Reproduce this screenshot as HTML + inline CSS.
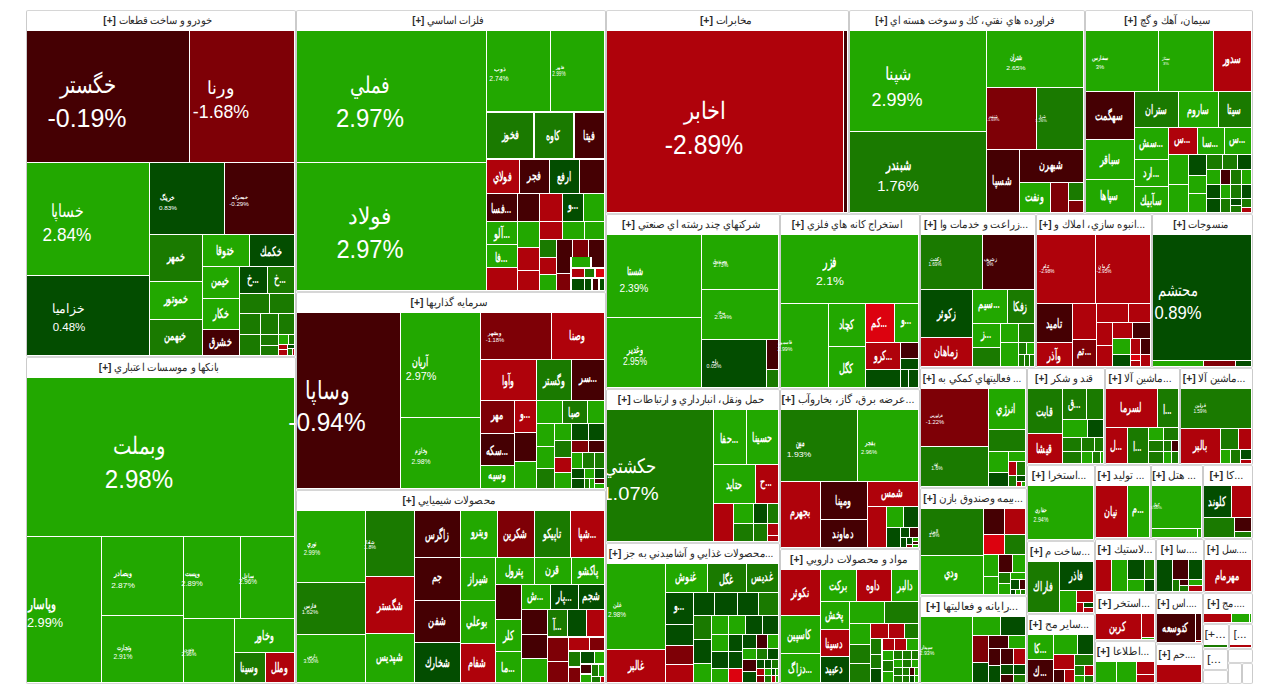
<!DOCTYPE html><html><head><meta charset="utf-8"><style>
html,body{margin:0;padding:0;background:#fff;width:1280px;height:699px;overflow:hidden}
body{position:relative;font-family:"Liberation Sans",sans-serif}
.s{position:absolute;border:1px solid #cbcbcb;border-top-color:#d6d6d6;border-bottom-color:#d6d6d6;border-radius:2px;background:#fff;box-sizing:border-box}
.h{position:absolute;width:600px;height:20px;line-height:20px;text-align:center;color:#2a2a2a;white-space:nowrap}
.t{position:absolute}
.l{position:absolute;width:400px;text-align:center;color:#fff;white-space:nowrap}
.c{position:absolute;overflow:hidden}

</style></head><body>
<div class="s" style="left:26px;top:10px;width:270px;height:347px"></div>
<div class="s" style="left:26px;top:357px;width:270px;height:327px"></div>
<div class="s" style="left:296px;top:10px;width:310px;height:282px"></div>
<div class="s" style="left:296px;top:292px;width:310px;height:198px"></div>
<div class="s" style="left:296px;top:490px;width:310px;height:194px"></div>
<div class="s" style="left:606px;top:10px;width:243px;height:204px"></div>
<div class="s" style="left:849px;top:10px;width:236px;height:204px"></div>
<div class="s" style="left:1085px;top:10px;width:168px;height:204px"></div>
<div class="s" style="left:606px;top:214px;width:174px;height:175px"></div>
<div class="s" style="left:780px;top:214px;width:140px;height:175px"></div>
<div class="s" style="left:920px;top:214px;width:116px;height:154px"></div>
<div class="s" style="left:1036px;top:214px;width:116px;height:154px"></div>
<div class="s" style="left:1152px;top:214px;width:101px;height:154px"></div>
<div class="s" style="left:606px;top:389px;width:174px;height:154px"></div>
<div class="s" style="left:606px;top:543px;width:174px;height:141px"></div>
<div class="s" style="left:780px;top:389px;width:140px;height:160px"></div>
<div class="s" style="left:780px;top:549px;width:140px;height:135px"></div>
<div class="s" style="left:920px;top:368px;width:107px;height:120px"></div>
<div class="s" style="left:920px;top:488px;width:107px;height:108px"></div>
<div class="s" style="left:920px;top:596px;width:107px;height:88px"></div>
<div class="s" style="left:1027px;top:368px;width:78px;height:97px"></div>
<div class="s" style="left:1105px;top:368px;width:75px;height:97px"></div>
<div class="s" style="left:1180px;top:368px;width:73px;height:97px"></div>
<div class="s" style="left:1027px;top:465px;width:68px;height:76px"></div>
<div class="s" style="left:1027px;top:541px;width:68px;height:73px"></div>
<div class="s" style="left:1027px;top:614px;width:68px;height:70px"></div>
<div class="s" style="left:1095px;top:465px;width:56px;height:74px"></div>
<div class="s" style="left:1151px;top:465px;width:52px;height:74px"></div>
<div class="s" style="left:1203px;top:465px;width:50px;height:74px"></div>
<div class="s" style="left:1095px;top:539px;width:61px;height:54px"></div>
<div class="s" style="left:1156px;top:539px;width:48px;height:54px"></div>
<div class="s" style="left:1204px;top:539px;width:49px;height:54px"></div>
<div class="s" style="left:1095px;top:593px;width:61px;height:48px"></div>
<div class="s" style="left:1156px;top:593px;width:47px;height:51px"></div>
<div class="s" style="left:1203px;top:593px;width:50px;height:31px"></div>
<div class="s" style="left:1095px;top:641px;width:61px;height:43px"></div>
<div class="s" style="left:1156px;top:644px;width:47px;height:40px"></div>
<div class="s" style="left:1203px;top:624px;width:26px;height:25px"></div>
<div class="s" style="left:1229px;top:624px;width:24px;height:25px"></div>
<div class="s" style="left:1203px;top:649px;width:25px;height:21px"></div>
<div class="s" style="left:1228px;top:649px;width:25px;height:14px"></div>
<div class="s" style="left:1203px;top:670px;width:25px;height:14px"></div>
<div class="s" style="left:1228px;top:663px;width:14px;height:21px"></div>
<div class="s" style="left:1242px;top:663px;width:11px;height:21px"></div>
<div class="t" style="left:27px;top:31px;width:162px;height:131px;background:#450003"></div>
<div class="t" style="left:190px;top:31px;width:104px;height:131px;background:#7e0006"></div>
<div class="t" style="left:27px;top:163px;width:122px;height:112px;background:#22a800"></div>
<div class="t" style="left:27px;top:276px;width:122px;height:79px;background:#034d00"></div>
<div class="t" style="left:150px;top:163px;width:74px;height:71px;background:#034d00"></div>
<div class="t" style="left:225px;top:163px;width:69px;height:71px;background:#450003"></div>
<div class="t" style="left:150px;top:235px;width:52px;height:46px;background:#1a7a00"></div>
<div class="t" style="left:150px;top:282px;width:52px;height:37px;background:#22a800"></div>
<div class="t" style="left:150px;top:320px;width:52px;height:35px;background:#1a7a00"></div>
<div class="t" style="left:203px;top:235px;width:46px;height:31px;background:#22a800"></div>
<div class="t" style="left:250px;top:235px;width:44px;height:31px;background:#034d00"></div>
<div class="t" style="left:203px;top:267px;width:36px;height:31px;background:#22a800"></div>
<div class="t" style="left:203px;top:299px;width:36px;height:30px;background:#22a800"></div>
<div class="t" style="left:203px;top:330px;width:36px;height:25px;background:#450003"></div>
<div class="t" style="left:240px;top:267px;width:27px;height:26px;background:#034d00"></div>
<div class="t" style="left:268px;top:267px;width:26px;height:26px;background:#1a7a00"></div>
<div class="t" style="left:240px;top:294px;width:29px;height:19px;background:#1a7a00"></div>
<div class="t" style="left:270px;top:294px;width:24px;height:19px;background:#1a7a00"></div>
<div class="t" style="left:240px;top:314px;width:20px;height:20px;background:#1a7a00"></div>
<div class="t" style="left:261px;top:314px;width:17px;height:20px;background:#1a7a00"></div>
<div class="t" style="left:279px;top:314px;width:15px;height:20px;background:#1a7a00"></div>
<div class="t" style="left:240px;top:335px;width:20px;height:20px;background:#1a7a00"></div>
<div class="t" style="left:261px;top:335px;width:17px;height:10px;background:#1a7a00"></div>
<div class="t" style="left:261px;top:346px;width:17px;height:9px;background:#1a7a00"></div>
<div class="t" style="left:279px;top:335px;width:9px;height:9px;background:#22a800"></div>
<div class="t" style="left:289px;top:335px;width:5px;height:9px;background:#1a7a00"></div>
<div class="t" style="left:279px;top:345px;width:8px;height:4px;background:#af020b"></div>
<div class="t" style="left:279px;top:350px;width:8px;height:5px;background:#af020b"></div>
<div class="t" style="left:288px;top:345px;width:6px;height:3px;background:#034d00"></div>
<div class="t" style="left:288px;top:349px;width:4px;height:6px;background:#1a7a00"></div>
<div class="t" style="left:293px;top:349px;width:1px;height:6px;background:#af020b"></div>
<div class="t" style="left:27px;top:378px;width:267px;height:158px;background:#22a800"></div>
<div class="t" style="left:27px;top:537px;width:74px;height:145px;background:#22a800"></div>
<div class="t" style="left:102px;top:537px;width:81px;height:78px;background:#22a800"></div>
<div class="t" style="left:102px;top:616px;width:81px;height:66px;background:#22a800"></div>
<div class="t" style="left:184px;top:537px;width:56px;height:81px;background:#22a800"></div>
<div class="t" style="left:241px;top:537px;width:53px;height:81px;background:#22a800"></div>
<div class="t" style="left:184px;top:619px;width:50px;height:63px;background:#22a800"></div>
<div class="t" style="left:235px;top:619px;width:59px;height:33px;background:#22a800"></div>
<div class="t" style="left:235px;top:653px;width:30px;height:29px;background:#1a7a00"></div>
<div class="t" style="left:266px;top:653px;width:28px;height:29px;background:#af020b"></div>
<div class="t" style="left:297px;top:31px;width:189px;height:131px;background:#22a800"></div>
<div class="t" style="left:297px;top:163px;width:189px;height:127px;background:#22a800"></div>
<div class="t" style="left:487px;top:31px;width:63px;height:80px;background:#22a800"></div>
<div class="t" style="left:551px;top:31px;width:53px;height:80px;background:#22a800"></div>
<div class="t" style="left:487px;top:113px;width:46px;height:45px;background:#1a7a00"></div>
<div class="t" style="left:535px;top:113px;width:38px;height:45px;background:#1a7a00"></div>
<div class="t" style="left:575px;top:113px;width:29px;height:45px;background:#450003"></div>
<div class="t" style="left:487px;top:160px;width:32px;height:33px;background:#af020b"></div>
<div class="t" style="left:520px;top:160px;width:29px;height:33px;background:#450003"></div>
<div class="t" style="left:550px;top:160px;width:29px;height:33px;background:#034d00"></div>
<div class="t" style="left:580px;top:160px;width:24px;height:33px;background:#450003"></div>
<div class="t" style="left:487px;top:194px;width:30px;height:27px;background:#450003"></div>
<div class="t" style="left:518px;top:194px;width:21px;height:27px;background:#450003"></div>
<div class="t" style="left:540px;top:194px;width:22px;height:27px;background:#af020b"></div>
<div class="t" style="left:563px;top:194px;width:20px;height:27px;background:#034d00"></div>
<div class="t" style="left:584px;top:194px;width:20px;height:27px;background:#22a800"></div>
<div class="t" style="left:487px;top:222px;width:30px;height:22px;background:#22a800"></div>
<div class="t" style="left:487px;top:245px;width:30px;height:22px;background:#22a800"></div>
<div class="t" style="left:487px;top:268px;width:30px;height:22px;background:#af020b"></div>
<div class="t" style="left:518px;top:222px;width:21px;height:25px;background:#22a800"></div>
<div class="t" style="left:518px;top:248px;width:21px;height:22px;background:#af020b"></div>
<div class="t" style="left:518px;top:271px;width:21px;height:19px;background:#af020b"></div>
<div class="t" style="left:540px;top:222px;width:22px;height:17px;background:#af020b"></div>
<div class="t" style="left:563px;top:222px;width:21px;height:17px;background:#22a800"></div>
<div class="t" style="left:585px;top:222px;width:19px;height:17px;background:#22a800"></div>
<div class="t" style="left:540px;top:240px;width:16px;height:17px;background:#1a7a00"></div>
<div class="t" style="left:557px;top:240px;width:15px;height:17px;background:#450003"></div>
<div class="t" style="left:573px;top:240px;width:15px;height:17px;background:#7e0006"></div>
<div class="t" style="left:589px;top:240px;width:15px;height:17px;background:#450003"></div>
<div class="t" style="left:540px;top:258px;width:16px;height:16px;background:#af020b"></div>
<div class="t" style="left:540px;top:275px;width:16px;height:15px;background:#22a800"></div>
<div class="t" style="left:557px;top:257px;width:13px;height:16px;background:#450003"></div>
<div class="t" style="left:557px;top:274px;width:13px;height:16px;background:#7e0006"></div>
<div class="t" style="left:572px;top:257px;width:18px;height:10px;background:#22a800"></div>
<div class="t" style="left:592px;top:257px;width:12px;height:10px;background:#450003"></div>
<div class="t" style="left:572px;top:269px;width:12px;height:8px;background:#af020b"></div>
<div class="t" style="left:585px;top:269px;width:9px;height:8px;background:#1a7a00"></div>
<div class="t" style="left:596px;top:269px;width:8px;height:8px;background:#dc020f"></div>
<div class="t" style="left:572px;top:279px;width:12px;height:11px;background:#034d00"></div>
<div class="t" style="left:585px;top:279px;width:6px;height:11px;background:#034d00"></div>
<div class="t" style="left:593px;top:279px;width:5px;height:11px;background:#450003"></div>
<div class="t" style="left:600px;top:279px;width:4px;height:11px;background:#034d00"></div>
<div class="t" style="left:297px;top:313px;width:103px;height:175px;background:#450003"></div>
<div class="t" style="left:401px;top:313px;width:79px;height:104px;background:#22a800"></div>
<div class="t" style="left:401px;top:418px;width:79px;height:70px;background:#22a800"></div>
<div class="t" style="left:481px;top:313px;width:70px;height:46px;background:#7e0006"></div>
<div class="t" style="left:552px;top:313px;width:52px;height:46px;background:#af020b"></div>
<div class="t" style="left:481px;top:360px;width:55px;height:40px;background:#af020b"></div>
<div class="t" style="left:537px;top:360px;width:34px;height:40px;background:#1a7a00"></div>
<div class="t" style="left:572px;top:360px;width:32px;height:40px;background:#450003"></div>
<div class="t" style="left:481px;top:401px;width:33px;height:32px;background:#7e0006"></div>
<div class="t" style="left:515px;top:401px;width:21px;height:31px;background:#af020b"></div>
<div class="t" style="left:481px;top:434px;width:33px;height:31px;background:#450003"></div>
<div class="t" style="left:515px;top:433px;width:21px;height:28px;background:#450003"></div>
<div class="t" style="left:481px;top:466px;width:33px;height:22px;background:#22a800"></div>
<div class="t" style="left:515px;top:462px;width:21px;height:26px;background:#22a800"></div>
<div class="t" style="left:537px;top:401px;width:25px;height:22px;background:#22a800"></div>
<div class="t" style="left:563px;top:401px;width:24px;height:22px;background:#1a7a00"></div>
<div class="t" style="left:588px;top:401px;width:16px;height:22px;background:#22a800"></div>
<div class="t" style="left:537px;top:424px;width:17px;height:22px;background:#22a800"></div>
<div class="t" style="left:537px;top:447px;width:17px;height:21px;background:#22a800"></div>
<div class="t" style="left:537px;top:469px;width:17px;height:19px;background:#1a7a00"></div>
<div class="t" style="left:555px;top:424px;width:16px;height:16px;background:#22a800"></div>
<div class="t" style="left:572px;top:424px;width:16px;height:16px;background:#034d00"></div>
<div class="t" style="left:589px;top:424px;width:15px;height:16px;background:#034d00"></div>
<div class="t" style="left:555px;top:441px;width:16px;height:16px;background:#1a7a00"></div>
<div class="t" style="left:555px;top:458px;width:16px;height:14px;background:#af020b"></div>
<div class="t" style="left:555px;top:473px;width:16px;height:15px;background:#22a800"></div>
<div class="t" style="left:572px;top:441px;width:16px;height:11px;background:#7e0006"></div>
<div class="t" style="left:589px;top:441px;width:15px;height:11px;background:#450003"></div>
<div class="t" style="left:572px;top:453px;width:10px;height:15px;background:#22a800"></div>
<div class="t" style="left:583px;top:453px;width:11px;height:15px;background:#1a7a00"></div>
<div class="t" style="left:595px;top:453px;width:9px;height:15px;background:#1a7a00"></div>
<div class="t" style="left:572px;top:469px;width:12px;height:9px;background:#034d00"></div>
<div class="t" style="left:585px;top:469px;width:9px;height:9px;background:#22a800"></div>
<div class="t" style="left:595px;top:469px;width:9px;height:9px;background:#034d00"></div>
<div class="t" style="left:572px;top:479px;width:12px;height:9px;background:#034d00"></div>
<div class="t" style="left:585px;top:479px;width:4px;height:9px;background:#1a7a00"></div>
<div class="t" style="left:590px;top:479px;width:4px;height:9px;background:#22a800"></div>
<div class="t" style="left:595px;top:479px;width:9px;height:4px;background:#450003"></div>
<div class="t" style="left:595px;top:484px;width:9px;height:4px;background:#22a800"></div>
<div class="t" style="left:297px;top:511px;width:68px;height:71px;background:#22a800"></div>
<div class="t" style="left:297px;top:583px;width:68px;height:51px;background:#1a7a00"></div>
<div class="t" style="left:297px;top:635px;width:68px;height:47px;background:#22a800"></div>
<div class="t" style="left:366px;top:511px;width:48px;height:65px;background:#1a7a00"></div>
<div class="t" style="left:366px;top:577px;width:48px;height:56px;background:#af020b"></div>
<div class="t" style="left:366px;top:634px;width:48px;height:48px;background:#22a800"></div>
<div class="t" style="left:415px;top:511px;width:45px;height:46px;background:#450003"></div>
<div class="t" style="left:415px;top:558px;width:45px;height:42px;background:#450003"></div>
<div class="t" style="left:415px;top:601px;width:45px;height:41px;background:#450003"></div>
<div class="t" style="left:415px;top:643px;width:45px;height:39px;background:#034d00"></div>
<div class="t" style="left:461px;top:511px;width:36px;height:46px;background:#22a800"></div>
<div class="t" style="left:498px;top:511px;width:36px;height:46px;background:#7e0006"></div>
<div class="t" style="left:535px;top:511px;width:35px;height:46px;background:#1a7a00"></div>
<div class="t" style="left:571px;top:511px;width:33px;height:46px;background:#af020b"></div>
<div class="t" style="left:461px;top:558px;width:34px;height:42px;background:#22a800"></div>
<div class="t" style="left:461px;top:601px;width:34px;height:42px;background:#22a800"></div>
<div class="t" style="left:461px;top:644px;width:34px;height:38px;background:#af020b"></div>
<div class="t" style="left:496px;top:558px;width:38px;height:26px;background:#22a800"></div>
<div class="t" style="left:535px;top:558px;width:36px;height:26px;background:#22a800"></div>
<div class="t" style="left:572px;top:558px;width:32px;height:26px;background:#22a800"></div>
<div class="t" style="left:496px;top:585px;width:25px;height:34px;background:#450003"></div>
<div class="t" style="left:496px;top:620px;width:25px;height:31px;background:#22a800"></div>
<div class="t" style="left:496px;top:652px;width:25px;height:30px;background:#22a800"></div>
<div class="t" style="left:522px;top:585px;width:28px;height:24px;background:#22a800"></div>
<div class="t" style="left:551px;top:585px;width:27px;height:24px;background:#034d00"></div>
<div class="t" style="left:579px;top:585px;width:25px;height:24px;background:#034d00"></div>
<div class="t" style="left:522px;top:610px;width:25px;height:24px;background:#450003"></div>
<div class="t" style="left:522px;top:635px;width:25px;height:23px;background:#450003"></div>
<div class="t" style="left:522px;top:659px;width:25px;height:23px;background:#22a800"></div>
<div class="t" style="left:548px;top:610px;width:19px;height:26px;background:#1a7a00"></div>
<div class="t" style="left:568px;top:610px;width:18px;height:26px;background:#034d00"></div>
<div class="t" style="left:587px;top:610px;width:17px;height:26px;background:#af020b"></div>
<div class="t" style="left:548px;top:638px;width:20px;height:23px;background:#7e0006"></div>
<div class="t" style="left:548px;top:662px;width:20px;height:20px;background:#7e0006"></div>
<div class="t" style="left:569px;top:638px;width:20px;height:12px;background:#af020b"></div>
<div class="t" style="left:590px;top:638px;width:14px;height:12px;background:#7e0006"></div>
<div class="t" style="left:569px;top:652px;width:11px;height:14px;background:#1a7a00"></div>
<div class="t" style="left:581px;top:652px;width:13px;height:11px;background:#034d00"></div>
<div class="t" style="left:595px;top:652px;width:9px;height:11px;background:#22a800"></div>
<div class="t" style="left:569px;top:668px;width:11px;height:14px;background:#7e0006"></div>
<div class="t" style="left:581px;top:665px;width:10px;height:8px;background:#450003"></div>
<div class="t" style="left:581px;top:675px;width:10px;height:7px;background:#22a800"></div>
<div class="t" style="left:592px;top:665px;width:6px;height:11px;background:#1a7a00"></div>
<div class="t" style="left:599px;top:665px;width:5px;height:11px;background:#22a800"></div>
<div class="t" style="left:592px;top:677px;width:8px;height:5px;background:#1a7a00"></div>
<div class="t" style="left:601px;top:677px;width:3px;height:5px;background:#af020b"></div>
<div class="t" style="left:607px;top:31px;width:236px;height:181px;background:#af020b"></div>
<div class="t" style="left:844px;top:31px;width:3px;height:181px;background:#450003"></div>
<div class="t" style="left:850px;top:31px;width:136px;height:100px;background:#22a800"></div>
<div class="t" style="left:850px;top:132px;width:136px;height:80px;background:#1a7a00"></div>
<div class="t" style="left:987px;top:31px;width:96px;height:56px;background:#22a800"></div>
<div class="t" style="left:987px;top:88px;width:49px;height:61px;background:#7e0006"></div>
<div class="t" style="left:1037px;top:88px;width:46px;height:61px;background:#1a7a00"></div>
<div class="t" style="left:987px;top:150px;width:32px;height:62px;background:#450003"></div>
<div class="t" style="left:1020px;top:150px;width:63px;height:32px;background:#450003"></div>
<div class="t" style="left:1020px;top:183px;width:30px;height:29px;background:#22a800"></div>
<div class="t" style="left:1051px;top:183px;width:17px;height:29px;background:#7e0006"></div>
<div class="t" style="left:1069px;top:183px;width:14px;height:17px;background:#1a7a00"></div>
<div class="t" style="left:1069px;top:201px;width:14px;height:11px;background:#7e0006"></div>
<div class="t" style="left:1086px;top:31px;width:72px;height:60px;background:#22a800"></div>
<div class="t" style="left:1159px;top:31px;width:54px;height:60px;background:#22a800"></div>
<div class="t" style="left:1214px;top:31px;width:37px;height:60px;background:#af020b"></div>
<div class="t" style="left:1086px;top:92px;width:48px;height:47px;background:#450003"></div>
<div class="t" style="left:1086px;top:140px;width:48px;height:39px;background:#22a800"></div>
<div class="t" style="left:1086px;top:180px;width:48px;height:32px;background:#22a800"></div>
<div class="t" style="left:1135px;top:92px;width:43px;height:35px;background:#1a7a00"></div>
<div class="t" style="left:1179px;top:92px;width:39px;height:35px;background:#22a800"></div>
<div class="t" style="left:1219px;top:92px;width:32px;height:35px;background:#1a7a00"></div>
<div class="t" style="left:1135px;top:128px;width:33px;height:31px;background:#22a800"></div>
<div class="t" style="left:1135px;top:160px;width:33px;height:26px;background:#22a800"></div>
<div class="t" style="left:1135px;top:187px;width:33px;height:25px;background:#22a800"></div>
<div class="t" style="left:1169px;top:128px;width:28px;height:26px;background:#af020b"></div>
<div class="t" style="left:1198px;top:128px;width:26px;height:26px;background:#22a800"></div>
<div class="t" style="left:1225px;top:128px;width:26px;height:26px;background:#22a800"></div>
<div class="t" style="left:1169px;top:155px;width:19px;height:29px;background:#22a800"></div>
<div class="t" style="left:1169px;top:185px;width:19px;height:27px;background:#22a800"></div>
<div class="t" style="left:1189px;top:155px;width:17px;height:20px;background:#034d00"></div>
<div class="t" style="left:1189px;top:176px;width:17px;height:17px;background:#22a800"></div>
<div class="t" style="left:1189px;top:194px;width:17px;height:18px;background:#22a800"></div>
<div class="t" style="left:1207px;top:155px;width:15px;height:14px;background:#1a7a00"></div>
<div class="t" style="left:1223px;top:155px;width:14px;height:14px;background:#1a7a00"></div>
<div class="t" style="left:1238px;top:155px;width:13px;height:14px;background:#034d00"></div>
<div class="t" style="left:1207px;top:170px;width:13px;height:14px;background:#22a800"></div>
<div class="t" style="left:1221px;top:170px;width:9px;height:14px;background:#450003"></div>
<div class="t" style="left:1231px;top:170px;width:10px;height:14px;background:#1a7a00"></div>
<div class="t" style="left:1242px;top:170px;width:9px;height:14px;background:#22a800"></div>
<div class="t" style="left:1207px;top:185px;width:13px;height:13px;background:#034d00"></div>
<div class="t" style="left:1221px;top:185px;width:9px;height:13px;background:#22a800"></div>
<div class="t" style="left:1231px;top:185px;width:10px;height:13px;background:#1a7a00"></div>
<div class="t" style="left:1242px;top:185px;width:9px;height:13px;background:#034d00"></div>
<div class="t" style="left:1207px;top:199px;width:13px;height:13px;background:#034d00"></div>
<div class="t" style="left:1221px;top:199px;width:9px;height:13px;background:#1a7a00"></div>
<div class="t" style="left:1231px;top:199px;width:10px;height:6px;background:#034d00"></div>
<div class="t" style="left:1231px;top:206px;width:10px;height:6px;background:#1a7a00"></div>
<div class="t" style="left:1242px;top:199px;width:9px;height:8px;background:#1a7a00"></div>
<div class="t" style="left:1242px;top:208px;width:9px;height:4px;background:#af020b"></div>
<div class="t" style="left:607px;top:235px;width:94px;height:82px;background:#22a800"></div>
<div class="t" style="left:607px;top:318px;width:94px;height:69px;background:#22a800"></div>
<div class="t" style="left:702px;top:235px;width:76px;height:54px;background:#22a800"></div>
<div class="t" style="left:702px;top:290px;width:76px;height:49px;background:#22a800"></div>
<div class="t" style="left:702px;top:340px;width:64px;height:47px;background:#034d00"></div>
<div class="t" style="left:767px;top:340px;width:11px;height:29px;background:#450003"></div>
<div class="t" style="left:767px;top:370px;width:11px;height:17px;background:#1a7a00"></div>
<div class="t" style="left:781px;top:235px;width:137px;height:68px;background:#22a800"></div>
<div class="t" style="left:781px;top:304px;width:47px;height:83px;background:#22a800"></div>
<div class="t" style="left:829px;top:304px;width:36px;height:42px;background:#22a800"></div>
<div class="t" style="left:829px;top:347px;width:36px;height:40px;background:#22a800"></div>
<div class="t" style="left:866px;top:304px;width:28px;height:38px;background:#dc020f"></div>
<div class="t" style="left:895px;top:304px;width:23px;height:38px;background:#22a800"></div>
<div class="t" style="left:866px;top:343px;width:34px;height:26px;background:#af020b"></div>
<div class="t" style="left:901px;top:343px;width:17px;height:15px;background:#450003"></div>
<div class="t" style="left:901px;top:359px;width:17px;height:10px;background:#034d00"></div>
<div class="t" style="left:866px;top:370px;width:34px;height:17px;background:#034d00"></div>
<div class="t" style="left:901px;top:370px;width:7px;height:17px;background:#034d00"></div>
<div class="t" style="left:909px;top:370px;width:9px;height:17px;background:#034d00"></div>
<div class="t" style="left:921px;top:235px;width:61px;height:54px;background:#1a7a00"></div>
<div class="t" style="left:983px;top:235px;width:51px;height:54px;background:#450003"></div>
<div class="t" style="left:921px;top:290px;width:51px;height:47px;background:#034d00"></div>
<div class="t" style="left:921px;top:338px;width:51px;height:28px;background:#af020b"></div>
<div class="t" style="left:973px;top:290px;width:34px;height:33px;background:#22a800"></div>
<div class="t" style="left:1008px;top:290px;width:26px;height:33px;background:#1a7a00"></div>
<div class="t" style="left:973px;top:324px;width:27px;height:23px;background:#22a800"></div>
<div class="t" style="left:973px;top:348px;width:27px;height:18px;background:#1a7a00"></div>
<div class="t" style="left:1001px;top:324px;width:17px;height:18px;background:#22a800"></div>
<div class="t" style="left:1019px;top:324px;width:15px;height:18px;background:#1a7a00"></div>
<div class="t" style="left:1001px;top:343px;width:17px;height:23px;background:#22a800"></div>
<div class="t" style="left:1019px;top:343px;width:7px;height:11px;background:#1a7a00"></div>
<div class="t" style="left:1027px;top:343px;width:7px;height:11px;background:#22a800"></div>
<div class="t" style="left:1019px;top:355px;width:5px;height:11px;background:#1a7a00"></div>
<div class="t" style="left:1025px;top:355px;width:4px;height:11px;background:#1a7a00"></div>
<div class="t" style="left:1030px;top:355px;width:4px;height:11px;background:#1a7a00"></div>
<div class="t" style="left:1037px;top:235px;width:58px;height:68px;background:#af020b"></div>
<div class="t" style="left:1096px;top:235px;width:54px;height:68px;background:#af020b"></div>
<div class="t" style="left:1037px;top:304px;width:35px;height:38px;background:#450003"></div>
<div class="t" style="left:1037px;top:343px;width:35px;height:23px;background:#af020b"></div>
<div class="t" style="left:1073px;top:304px;width:23px;height:35px;background:#af020b"></div>
<div class="t" style="left:1073px;top:340px;width:23px;height:26px;background:#7e0006"></div>
<div class="t" style="left:1097px;top:304px;width:31px;height:18px;background:#af020b"></div>
<div class="t" style="left:1129px;top:304px;width:21px;height:18px;background:#af020b"></div>
<div class="t" style="left:1097px;top:323px;width:15px;height:22px;background:#af020b"></div>
<div class="t" style="left:1097px;top:346px;width:15px;height:20px;background:#af020b"></div>
<div class="t" style="left:1113px;top:323px;width:19px;height:15px;background:#af020b"></div>
<div class="t" style="left:1133px;top:323px;width:17px;height:15px;background:#450003"></div>
<div class="t" style="left:1113px;top:339px;width:17px;height:15px;background:#22a800"></div>
<div class="t" style="left:1113px;top:355px;width:17px;height:11px;background:#034d00"></div>
<div class="t" style="left:1131px;top:339px;width:9px;height:15px;background:#af020b"></div>
<div class="t" style="left:1141px;top:339px;width:9px;height:15px;background:#450003"></div>
<div class="t" style="left:1131px;top:355px;width:9px;height:5px;background:#dc020f"></div>
<div class="t" style="left:1131px;top:361px;width:9px;height:5px;background:#af020b"></div>
<div class="t" style="left:1141px;top:355px;width:9px;height:11px;background:#af020b"></div>
<div class="t" style="left:1153px;top:235px;width:98px;height:125px;background:#034d00"></div>
<div class="t" style="left:1153px;top:361px;width:50px;height:5px;background:#22a800"></div>
<div class="t" style="left:1204px;top:361px;width:31px;height:5px;background:#7e0006"></div>
<div class="t" style="left:1236px;top:361px;width:15px;height:5px;background:#034d00"></div>
<div class="t" style="left:607px;top:410px;width:106px;height:131px;background:#1a7a00"></div>
<div class="t" style="left:714px;top:410px;width:32px;height:54px;background:#22a800"></div>
<div class="t" style="left:747px;top:410px;width:31px;height:54px;background:#22a800"></div>
<div class="t" style="left:714px;top:465px;width:41px;height:38px;background:#22a800"></div>
<div class="t" style="left:756px;top:465px;width:22px;height:38px;background:#af020b"></div>
<div class="t" style="left:714px;top:504px;width:19px;height:37px;background:#af020b"></div>
<div class="t" style="left:734px;top:504px;width:19px;height:19px;background:#22a800"></div>
<div class="t" style="left:754px;top:504px;width:13px;height:19px;background:#034d00"></div>
<div class="t" style="left:768px;top:504px;width:10px;height:19px;background:#1a7a00"></div>
<div class="t" style="left:734px;top:524px;width:19px;height:17px;background:#1a7a00"></div>
<div class="t" style="left:754px;top:524px;width:13px;height:17px;background:#1a7a00"></div>
<div class="t" style="left:768px;top:524px;width:10px;height:11px;background:#af020b"></div>
<div class="t" style="left:768px;top:536px;width:10px;height:5px;background:#af020b"></div>
<div class="t" style="left:607px;top:564px;width:58px;height:85px;background:#22a800"></div>
<div class="t" style="left:607px;top:650px;width:58px;height:32px;background:#af020b"></div>
<div class="t" style="left:666px;top:564px;width:41px;height:28px;background:#22a800"></div>
<div class="t" style="left:708px;top:564px;width:38px;height:28px;background:#1a7a00"></div>
<div class="t" style="left:747px;top:564px;width:31px;height:28px;background:#1a7a00"></div>
<div class="t" style="left:666px;top:593px;width:27px;height:31px;background:#034d00"></div>
<div class="t" style="left:666px;top:625px;width:27px;height:20px;background:#034d00"></div>
<div class="t" style="left:666px;top:646px;width:27px;height:18px;background:#7e0006"></div>
<div class="t" style="left:666px;top:665px;width:27px;height:17px;background:#af020b"></div>
<div class="t" style="left:694px;top:593px;width:20px;height:22px;background:#034d00"></div>
<div class="t" style="left:715px;top:593px;width:22px;height:22px;background:#034d00"></div>
<div class="t" style="left:738px;top:593px;width:20px;height:22px;background:#034d00"></div>
<div class="t" style="left:759px;top:593px;width:19px;height:22px;background:#1a7a00"></div>
<div class="t" style="left:694px;top:616px;width:17px;height:23px;background:#1a7a00"></div>
<div class="t" style="left:694px;top:640px;width:17px;height:23px;background:#034d00"></div>
<div class="t" style="left:694px;top:664px;width:17px;height:18px;background:#22a800"></div>
<div class="t" style="left:712px;top:616px;width:16px;height:18px;background:#22a800"></div>
<div class="t" style="left:729px;top:616px;width:16px;height:18px;background:#22a800"></div>
<div class="t" style="left:746px;top:616px;width:16px;height:18px;background:#034d00"></div>
<div class="t" style="left:763px;top:616px;width:15px;height:18px;background:#034d00"></div>
<div class="t" style="left:712px;top:635px;width:16px;height:16px;background:#22a800"></div>
<div class="t" style="left:712px;top:652px;width:16px;height:16px;background:#034d00"></div>
<div class="t" style="left:712px;top:669px;width:16px;height:13px;background:#22a800"></div>
<div class="t" style="left:729px;top:635px;width:13px;height:16px;background:#034d00"></div>
<div class="t" style="left:729px;top:652px;width:13px;height:16px;background:#034d00"></div>
<div class="t" style="left:729px;top:669px;width:13px;height:13px;background:#dc020f"></div>
<div class="t" style="left:743px;top:635px;width:13px;height:13px;background:#034d00"></div>
<div class="t" style="left:757px;top:635px;width:10px;height:13px;background:#450003"></div>
<div class="t" style="left:768px;top:635px;width:10px;height:13px;background:#22a800"></div>
<div class="t" style="left:743px;top:649px;width:13px;height:10px;background:#22a800"></div>
<div class="t" style="left:757px;top:649px;width:10px;height:10px;background:#1a7a00"></div>
<div class="t" style="left:768px;top:649px;width:10px;height:10px;background:#034d00"></div>
<div class="t" style="left:743px;top:660px;width:13px;height:11px;background:#450003"></div>
<div class="t" style="left:757px;top:660px;width:7px;height:8px;background:#034d00"></div>
<div class="t" style="left:765px;top:660px;width:6px;height:8px;background:#034d00"></div>
<div class="t" style="left:772px;top:660px;width:6px;height:8px;background:#1a7a00"></div>
<div class="t" style="left:743px;top:672px;width:13px;height:10px;background:#034d00"></div>
<div class="t" style="left:757px;top:669px;width:7px;height:6px;background:#af020b"></div>
<div class="t" style="left:765px;top:669px;width:6px;height:6px;background:#22a800"></div>
<div class="t" style="left:772px;top:669px;width:3px;height:6px;background:#034d00"></div>
<div class="t" style="left:776px;top:669px;width:2px;height:6px;background:#22a800"></div>
<div class="t" style="left:757px;top:676px;width:7px;height:6px;background:#7e0006"></div>
<div class="t" style="left:765px;top:676px;width:6px;height:6px;background:#1a7a00"></div>
<div class="t" style="left:772px;top:676px;width:3px;height:6px;background:#af020b"></div>
<div class="t" style="left:776px;top:676px;width:2px;height:6px;background:#22a800"></div>
<div class="t" style="left:781px;top:410px;width:76px;height:71px;background:#1a7a00"></div>
<div class="t" style="left:858px;top:410px;width:60px;height:71px;background:#22a800"></div>
<div class="t" style="left:781px;top:482px;width:39px;height:65px;background:#af020b"></div>
<div class="t" style="left:821px;top:482px;width:46px;height:37px;background:#450003"></div>
<div class="t" style="left:821px;top:520px;width:46px;height:27px;background:#450003"></div>
<div class="t" style="left:868px;top:482px;width:50px;height:24px;background:#af020b"></div>
<div class="t" style="left:868px;top:507px;width:18px;height:40px;background:#af020b"></div>
<div class="t" style="left:887px;top:507px;width:16px;height:20px;background:#22a800"></div>
<div class="t" style="left:904px;top:507px;width:14px;height:20px;background:#034d00"></div>
<div class="t" style="left:887px;top:528px;width:13px;height:19px;background:#034d00"></div>
<div class="t" style="left:901px;top:528px;width:8px;height:9px;background:#034d00"></div>
<div class="t" style="left:910px;top:528px;width:8px;height:9px;background:#450003"></div>
<div class="t" style="left:901px;top:538px;width:5px;height:9px;background:#034d00"></div>
<div class="t" style="left:907px;top:538px;width:5px;height:6px;background:#034d00"></div>
<div class="t" style="left:907px;top:545px;width:5px;height:2px;background:#7e0006"></div>
<div class="t" style="left:913px;top:538px;width:5px;height:3px;background:#22a800"></div>
<div class="t" style="left:913px;top:542px;width:5px;height:2px;background:#450003"></div>
<div class="t" style="left:913px;top:545px;width:5px;height:2px;background:#22a800"></div>
<div class="t" style="left:781px;top:570px;width:39px;height:45px;background:#af020b"></div>
<div class="t" style="left:781px;top:616px;width:39px;height:37px;background:#22a800"></div>
<div class="t" style="left:781px;top:654px;width:39px;height:28px;background:#22a800"></div>
<div class="t" style="left:821px;top:570px;width:35px;height:31px;background:#22a800"></div>
<div class="t" style="left:857px;top:570px;width:34px;height:31px;background:#af020b"></div>
<div class="t" style="left:892px;top:570px;width:26px;height:31px;background:#22a800"></div>
<div class="t" style="left:821px;top:602px;width:28px;height:27px;background:#22a800"></div>
<div class="t" style="left:821px;top:630px;width:28px;height:26px;background:#af020b"></div>
<div class="t" style="left:821px;top:657px;width:28px;height:25px;background:#034d00"></div>
<div class="t" style="left:850px;top:602px;width:34px;height:21px;background:#22a800"></div>
<div class="t" style="left:885px;top:602px;width:33px;height:21px;background:#1a7a00"></div>
<div class="t" style="left:850px;top:624px;width:20px;height:20px;background:#22a800"></div>
<div class="t" style="left:850px;top:645px;width:20px;height:18px;background:#1a7a00"></div>
<div class="t" style="left:850px;top:664px;width:20px;height:18px;background:#1a7a00"></div>
<div class="t" style="left:871px;top:624px;width:17px;height:14px;background:#af020b"></div>
<div class="t" style="left:889px;top:624px;width:15px;height:14px;background:#af020b"></div>
<div class="t" style="left:905px;top:624px;width:13px;height:14px;background:#1a7a00"></div>
<div class="t" style="left:871px;top:639px;width:10px;height:15px;background:#1a7a00"></div>
<div class="t" style="left:871px;top:655px;width:10px;height:13px;background:#1a7a00"></div>
<div class="t" style="left:871px;top:669px;width:10px;height:13px;background:#034d00"></div>
<div class="t" style="left:883px;top:639px;width:11px;height:11px;background:#af020b"></div>
<div class="t" style="left:895px;top:639px;width:11px;height:11px;background:#af020b"></div>
<div class="t" style="left:907px;top:639px;width:11px;height:11px;background:#22a800"></div>
<div class="t" style="left:883px;top:651px;width:10px;height:9px;background:#22a800"></div>
<div class="t" style="left:894px;top:651px;width:8px;height:8px;background:#1a7a00"></div>
<div class="t" style="left:903px;top:651px;width:8px;height:8px;background:#1a7a00"></div>
<div class="t" style="left:912px;top:651px;width:6px;height:8px;background:#1a7a00"></div>
<div class="t" style="left:883px;top:661px;width:10px;height:10px;background:#1a7a00"></div>
<div class="t" style="left:894px;top:660px;width:8px;height:7px;background:#22a800"></div>
<div class="t" style="left:903px;top:660px;width:8px;height:7px;background:#1a7a00"></div>
<div class="t" style="left:912px;top:660px;width:6px;height:7px;background:#22a800"></div>
<div class="t" style="left:883px;top:672px;width:10px;height:10px;background:#22a800"></div>
<div class="t" style="left:894px;top:668px;width:8px;height:7px;background:#1a7a00"></div>
<div class="t" style="left:903px;top:668px;width:6px;height:7px;background:#1a7a00"></div>
<div class="t" style="left:910px;top:668px;width:4px;height:7px;background:#450003"></div>
<div class="t" style="left:915px;top:668px;width:3px;height:7px;background:#22a800"></div>
<div class="t" style="left:894px;top:676px;width:8px;height:6px;background:#1a7a00"></div>
<div class="t" style="left:903px;top:676px;width:6px;height:6px;background:#1a7a00"></div>
<div class="t" style="left:910px;top:676px;width:4px;height:6px;background:#034d00"></div>
<div class="t" style="left:915px;top:676px;width:3px;height:6px;background:#22a800"></div>
<div class="t" style="left:921px;top:389px;width:67px;height:57px;background:#7e0006"></div>
<div class="t" style="left:921px;top:447px;width:67px;height:39px;background:#1a7a00"></div>
<div class="t" style="left:989px;top:389px;width:36px;height:40px;background:#22a800"></div>
<div class="t" style="left:989px;top:430px;width:36px;height:21px;background:#1a7a00"></div>
<div class="t" style="left:989px;top:452px;width:19px;height:20px;background:#22a800"></div>
<div class="t" style="left:989px;top:473px;width:19px;height:13px;background:#034d00"></div>
<div class="t" style="left:1009px;top:452px;width:16px;height:9px;background:#22a800"></div>
<div class="t" style="left:1009px;top:462px;width:7px;height:13px;background:#af020b"></div>
<div class="t" style="left:1017px;top:462px;width:8px;height:13px;background:#1a7a00"></div>
<div class="t" style="left:1009px;top:476px;width:7px;height:10px;background:#1a7a00"></div>
<div class="t" style="left:1017px;top:476px;width:8px;height:5px;background:#034d00"></div>
<div class="t" style="left:1017px;top:482px;width:4px;height:4px;background:#af020b"></div>
<div class="t" style="left:1022px;top:482px;width:3px;height:4px;background:#22a800"></div>
<div class="t" style="left:921px;top:509px;width:62px;height:46px;background:#1a7a00"></div>
<div class="t" style="left:921px;top:556px;width:62px;height:38px;background:#22a800"></div>
<div class="t" style="left:984px;top:509px;width:20px;height:25px;background:#450003"></div>
<div class="t" style="left:1005px;top:509px;width:20px;height:25px;background:#af020b"></div>
<div class="t" style="left:984px;top:535px;width:20px;height:19px;background:#dc020f"></div>
<div class="t" style="left:1005px;top:535px;width:20px;height:19px;background:#1a7a00"></div>
<div class="t" style="left:984px;top:555px;width:14px;height:21px;background:#22a800"></div>
<div class="t" style="left:984px;top:577px;width:14px;height:17px;background:#22a800"></div>
<div class="t" style="left:999px;top:555px;width:13px;height:17px;background:#450003"></div>
<div class="t" style="left:1013px;top:555px;width:12px;height:17px;background:#22a800"></div>
<div class="t" style="left:999px;top:573px;width:11px;height:10px;background:#1a7a00"></div>
<div class="t" style="left:1011px;top:573px;width:14px;height:6px;background:#22a800"></div>
<div class="t" style="left:999px;top:584px;width:11px;height:10px;background:#22a800"></div>
<div class="t" style="left:1011px;top:580px;width:8px;height:9px;background:#034d00"></div>
<div class="t" style="left:1020px;top:580px;width:5px;height:9px;background:#450003"></div>
<div class="t" style="left:1011px;top:590px;width:4px;height:4px;background:#034d00"></div>
<div class="t" style="left:1016px;top:590px;width:4px;height:4px;background:#22a800"></div>
<div class="t" style="left:1021px;top:590px;width:4px;height:4px;background:#1a7a00"></div>
<div class="t" style="left:921px;top:617px;width:51px;height:65px;background:#22a800"></div>
<div class="t" style="left:973px;top:617px;width:27px;height:18px;background:#22a800"></div>
<div class="t" style="left:1001px;top:617px;width:24px;height:18px;background:#034d00"></div>
<div class="t" style="left:973px;top:636px;width:15px;height:26px;background:#7e0006"></div>
<div class="t" style="left:973px;top:663px;width:15px;height:19px;background:#034d00"></div>
<div class="t" style="left:989px;top:636px;width:19px;height:12px;background:#450003"></div>
<div class="t" style="left:1009px;top:636px;width:16px;height:12px;background:#22a800"></div>
<div class="t" style="left:989px;top:649px;width:11px;height:16px;background:#450003"></div>
<div class="t" style="left:1001px;top:649px;width:12px;height:15px;background:#450003"></div>
<div class="t" style="left:1014px;top:649px;width:11px;height:15px;background:#af020b"></div>
<div class="t" style="left:989px;top:666px;width:11px;height:16px;background:#034d00"></div>
<div class="t" style="left:1001px;top:665px;width:12px;height:9px;background:#034d00"></div>
<div class="t" style="left:1014px;top:665px;width:11px;height:9px;background:#034d00"></div>
<div class="t" style="left:1001px;top:675px;width:12px;height:7px;background:#450003"></div>
<div class="t" style="left:1014px;top:675px;width:11px;height:7px;background:#1a7a00"></div>
<div class="t" style="left:1028px;top:389px;width:34px;height:44px;background:#1a7a00"></div>
<div class="t" style="left:1028px;top:434px;width:34px;height:29px;background:#af020b"></div>
<div class="t" style="left:1063px;top:389px;width:23px;height:30px;background:#1a7a00"></div>
<div class="t" style="left:1087px;top:389px;width:16px;height:30px;background:#1a7a00"></div>
<div class="t" style="left:1063px;top:420px;width:24px;height:17px;background:#22a800"></div>
<div class="t" style="left:1088px;top:420px;width:15px;height:17px;background:#034d00"></div>
<div class="t" style="left:1063px;top:438px;width:18px;height:13px;background:#1a7a00"></div>
<div class="t" style="left:1082px;top:438px;width:12px;height:13px;background:#1a7a00"></div>
<div class="t" style="left:1095px;top:438px;width:8px;height:13px;background:#1a7a00"></div>
<div class="t" style="left:1063px;top:452px;width:18px;height:11px;background:#1a7a00"></div>
<div class="t" style="left:1082px;top:452px;width:10px;height:11px;background:#22a800"></div>
<div class="t" style="left:1093px;top:452px;width:7px;height:11px;background:#1a7a00"></div>
<div class="t" style="left:1101px;top:452px;width:2px;height:11px;background:#22a800"></div>
<div class="t" style="left:1106px;top:389px;width:51px;height:38px;background:#af020b"></div>
<div class="t" style="left:1158px;top:389px;width:20px;height:38px;background:#1a7a00"></div>
<div class="t" style="left:1106px;top:428px;width:21px;height:35px;background:#af020b"></div>
<div class="t" style="left:1128px;top:428px;width:20px;height:35px;background:#1a7a00"></div>
<div class="t" style="left:1149px;top:428px;width:14px;height:12px;background:#22a800"></div>
<div class="t" style="left:1164px;top:428px;width:14px;height:12px;background:#1a7a00"></div>
<div class="t" style="left:1149px;top:441px;width:14px;height:10px;background:#1a7a00"></div>
<div class="t" style="left:1164px;top:441px;width:7px;height:10px;background:#1a7a00"></div>
<div class="t" style="left:1172px;top:441px;width:6px;height:10px;background:#450003"></div>
<div class="t" style="left:1149px;top:452px;width:14px;height:11px;background:#1a7a00"></div>
<div class="t" style="left:1164px;top:452px;width:7px;height:11px;background:#22a800"></div>
<div class="t" style="left:1172px;top:452px;width:6px;height:11px;background:#1a7a00"></div>
<div class="t" style="left:1181px;top:389px;width:70px;height:39px;background:#1a7a00"></div>
<div class="t" style="left:1181px;top:429px;width:39px;height:34px;background:#af020b"></div>
<div class="t" style="left:1221px;top:429px;width:17px;height:20px;background:#1a7a00"></div>
<div class="t" style="left:1239px;top:429px;width:12px;height:20px;background:#af020b"></div>
<div class="t" style="left:1221px;top:450px;width:9px;height:13px;background:#22a800"></div>
<div class="t" style="left:1231px;top:450px;width:9px;height:13px;background:#1a7a00"></div>
<div class="t" style="left:1241px;top:450px;width:10px;height:9px;background:#034d00"></div>
<div class="t" style="left:1241px;top:460px;width:10px;height:3px;background:#af020b"></div>
<div class="t" style="left:1028px;top:486px;width:65px;height:53px;background:#22a800"></div>
<div class="t" style="left:1028px;top:562px;width:31px;height:50px;background:#1a7a00"></div>
<div class="t" style="left:1060px;top:562px;width:33px;height:28px;background:#034d00"></div>
<div class="t" style="left:1060px;top:591px;width:16px;height:21px;background:#22a800"></div>
<div class="t" style="left:1077px;top:591px;width:16px;height:11px;background:#af020b"></div>
<div class="t" style="left:1077px;top:603px;width:6px;height:9px;background:#af020b"></div>
<div class="t" style="left:1084px;top:603px;width:9px;height:4px;background:#034d00"></div>
<div class="t" style="left:1084px;top:608px;width:9px;height:4px;background:#af020b"></div>
<div class="t" style="left:1028px;top:635px;width:25px;height:24px;background:#22a800"></div>
<div class="t" style="left:1028px;top:660px;width:25px;height:22px;background:#450003"></div>
<div class="t" style="left:1054px;top:635px;width:23px;height:19px;background:#22a800"></div>
<div class="t" style="left:1078px;top:635px;width:15px;height:19px;background:#034d00"></div>
<div class="t" style="left:1054px;top:655px;width:20px;height:14px;background:#af020b"></div>
<div class="t" style="left:1075px;top:655px;width:18px;height:10px;background:#1a7a00"></div>
<div class="t" style="left:1054px;top:670px;width:10px;height:12px;background:#450003"></div>
<div class="t" style="left:1065px;top:670px;width:9px;height:12px;background:#af020b"></div>
<div class="t" style="left:1075px;top:666px;width:9px;height:9px;background:#1a7a00"></div>
<div class="t" style="left:1085px;top:666px;width:8px;height:9px;background:#af020b"></div>
<div class="t" style="left:1075px;top:676px;width:9px;height:6px;background:#22a800"></div>
<div class="t" style="left:1085px;top:676px;width:8px;height:6px;background:#1a7a00"></div>
<div class="t" style="left:1096px;top:486px;width:31px;height:51px;background:#af020b"></div>
<div class="t" style="left:1128px;top:486px;width:21px;height:51px;background:#22a800"></div>
<div class="t" style="left:1152px;top:486px;width:49px;height:42px;background:#22a800"></div>
<div class="t" style="left:1152px;top:529px;width:45px;height:8px;background:#22a800"></div>
<div class="t" style="left:1198px;top:529px;width:3px;height:8px;background:#22a800"></div>
<div class="t" style="left:1204px;top:486px;width:27px;height:31px;background:#034d00"></div>
<div class="t" style="left:1232px;top:486px;width:19px;height:31px;background:#af020b"></div>
<div class="t" style="left:1204px;top:518px;width:30px;height:19px;background:#1a7a00"></div>
<div class="t" style="left:1235px;top:518px;width:16px;height:13px;background:#450003"></div>
<div class="t" style="left:1235px;top:532px;width:16px;height:5px;background:#1a7a00"></div>
<div class="t" style="left:1096px;top:560px;width:15px;height:31px;background:#af020b"></div>
<div class="t" style="left:1112px;top:560px;width:15px;height:31px;background:#22a800"></div>
<div class="t" style="left:1128px;top:560px;width:16px;height:19px;background:#034d00"></div>
<div class="t" style="left:1145px;top:560px;width:9px;height:19px;background:#1a7a00"></div>
<div class="t" style="left:1128px;top:580px;width:16px;height:11px;background:#22a800"></div>
<div class="t" style="left:1145px;top:580px;width:9px;height:11px;background:#034d00"></div>
<div class="t" style="left:1157px;top:560px;width:15px;height:31px;background:#034d00"></div>
<div class="t" style="left:1173px;top:560px;width:15px;height:19px;background:#450003"></div>
<div class="t" style="left:1189px;top:560px;width:13px;height:19px;background:#034d00"></div>
<div class="t" style="left:1173px;top:580px;width:6px;height:11px;background:#1a7a00"></div>
<div class="t" style="left:1180px;top:580px;width:8px;height:5px;background:#450003"></div>
<div class="t" style="left:1180px;top:586px;width:8px;height:5px;background:#1a7a00"></div>
<div class="t" style="left:1189px;top:580px;width:13px;height:5px;background:#22a800"></div>
<div class="t" style="left:1189px;top:586px;width:13px;height:5px;background:#af020b"></div>
<div class="t" style="left:1205px;top:560px;width:46px;height:31px;background:#af020b"></div>
<div class="t" style="left:1096px;top:614px;width:45px;height:25px;background:#af020b"></div>
<div class="t" style="left:1142px;top:614px;width:12px;height:23px;background:#af020b"></div>
<div class="t" style="left:1142px;top:638px;width:12px;height:1px;background:#22a800"></div>
<div class="t" style="left:1157px;top:614px;width:38px;height:28px;background:#450003"></div>
<div class="t" style="left:1196px;top:614px;width:5px;height:26px;background:#450003"></div>
<div class="t" style="left:1196px;top:641px;width:5px;height:1px;background:#af020b"></div>
<div class="t" style="left:1204px;top:614px;width:27px;height:8px;background:#af020b"></div>
<div class="t" style="left:1232px;top:614px;width:17px;height:8px;background:#22a800"></div>
<div class="t" style="left:1250px;top:614px;width:1px;height:8px;background:#22a800"></div>
<div class="t" style="left:1096px;top:662px;width:20px;height:20px;background:#22a800"></div>
<div class="t" style="left:1117px;top:662px;width:19px;height:20px;background:#22a800"></div>
<div class="t" style="left:1137px;top:662px;width:17px;height:12px;background:#af020b"></div>
<div class="t" style="left:1137px;top:675px;width:17px;height:7px;background:#af020b"></div>
<div class="t" style="left:1157px;top:665px;width:44px;height:17px;background:#af020b"></div>
<div class="t" style="left:1204px;top:645px;width:23px;height:2px;background:#1a7a00"></div>
<div class="t" style="left:1230px;top:645px;width:21px;height:2px;background:#af020b"></div>
<div class="l" dir="rtl" style="left:-111.90px;top:61.25px;font-size:23.88px;line-height:47.76px;transform:scaleX(0.822)">خگستر</div><div class="l" dir="ltr" style="left:-113.34px;top:91.74px;font-size:26.37px;line-height:52.74px;transform:scaleX(0.948)">-0.19%</div>
<div class="l" dir="rtl" style="left:21.34px;top:69.92px;font-size:18.34px;line-height:36.68px;transform:scaleX(0.969)">ورنا</div><div class="l" dir="ltr" style="left:21.33px;top:93.27px;font-size:18.91px;line-height:37.83px;transform:scaleX(0.940)">-1.68%</div>
<div class="l" dir="rtl" style="left:-132.84px;top:192.80px;font-size:18.34px;line-height:36.68px;transform:scaleX(0.784)">خساپا</div><div class="l" dir="ltr" style="left:-133.46px;top:216.05px;font-size:18.91px;line-height:37.83px;transform:scaleX(0.910)">2.84%</div>
<div class="l" dir="rtl" style="left:-132.36px;top:296.52px;font-size:12.66px;line-height:25.32px;transform:scaleX(0.948)">خزاميا</div><div class="l" dir="ltr" style="left:-131.34px;top:314.85px;font-size:11.71px;line-height:23.43px;transform:scaleX(0.986)">0.48%</div>
<div class="l" dir="rtl" style="left:-32.83px;top:191.39px;font-size:6.79px;line-height:13.58px;transform:scaleX(0.818);font-weight:bold">خرينگ</div><div class="l" dir="ltr" style="left:-31.69px;top:201.57px;font-size:6.11px;line-height:12.23px;transform:scaleX(1.034)">0.83%</div>
<div class="l" dir="rtl" style="left:40.12px;top:191.80px;font-size:5.34px;line-height:10.68px;transform:scaleX(0.947);font-weight:bold">خمحركه</div><div class="l" dir="ltr" style="left:39.06px;top:198.12px;font-size:6.24px;line-height:12.49px;transform:scaleX(0.997)">-0.29%</div>
<div class="l" dir="rtl" style="left:-24.32px;top:244.64px;font-size:12.50px;line-height:25.00px;transform:scaleX(0.620);font-weight:bold">خمهر</div>
<div class="l" dir="rtl" style="left:-24.22px;top:287.14px;font-size:12.50px;line-height:25.00px;transform:scaleX(0.620);font-weight:bold">خموتور</div>
<div class="l" dir="rtl" style="left:-24.70px;top:324.14px;font-size:12.50px;line-height:25.00px;transform:scaleX(0.620);font-weight:bold">خبهمن</div>
<div class="l" dir="rtl" style="left:25.20px;top:238.55px;font-size:12.50px;line-height:25.00px;transform:scaleX(0.620);font-weight:bold">ختوقا</div>
<div class="l" dir="rtl" style="left:71.30px;top:239.96px;font-size:12.50px;line-height:25.00px;transform:scaleX(0.620);font-weight:bold">خكمك</div>
<div class="l" dir="rtl" style="left:20.30px;top:269.14px;font-size:12.50px;line-height:25.00px;transform:scaleX(0.620);font-weight:bold">خيمن</div>
<div class="l" dir="rtl" style="left:20.78px;top:302.05px;font-size:12.50px;line-height:25.00px;transform:scaleX(0.620);font-weight:bold">خكار</div>
<div class="l" dir="rtl" style="left:20.30px;top:329.77px;font-size:12.50px;line-height:25.00px;transform:scaleX(0.620);font-weight:bold">خشرق</div>
<div class="l" dir="rtl" style="left:52.70px;top:266.96px;font-size:12.50px;line-height:25.00px;transform:scaleX(0.620);font-weight:bold">...خ</div>
<div class="l" dir="rtl" style="left:80.20px;top:266.96px;font-size:12.50px;line-height:25.00px;transform:scaleX(0.620);font-weight:bold">...خ</div>
<div class="l" dir="rtl" style="left:-61.23px;top:421.53px;font-size:24.12px;line-height:48.24px;transform:scaleX(0.811)">وبملت</div><div class="l" dir="ltr" style="left:-61.46px;top:453.09px;font-size:26.20px;line-height:52.40px;transform:scaleX(0.920)">2.98%</div>
<div class="c" style="left:27px;top:537px;width:74px;height:145px"><div style="position:absolute;left:-27px;top:-537px"><div class="l" dir="rtl" style="left:-157.89px;top:590.59px;font-size:13.88px;line-height:27.76px;transform:scaleX(0.730);font-weight:bold">وپاسار</div><div class="l" dir="ltr" style="left:-155.51px;top:611.12px;font-size:12.34px;line-height:24.69px;transform:scaleX(1.032)">2.99%</div></div></div>
<div class="l" dir="rtl" style="left:-76.87px;top:566.20px;font-size:7.66px;line-height:15.32px;transform:scaleX(0.762);font-weight:bold">وبصادر</div><div class="l" dir="ltr" style="left:-76.53px;top:577.54px;font-size:7.60px;line-height:15.20px;transform:scaleX(1.096)">2.87%</div>
<div class="l" dir="rtl" style="left:-76.44px;top:640.64px;font-size:7.10px;line-height:14.20px;transform:scaleX(0.668);font-weight:bold">وتجارت</div><div class="l" dir="ltr" style="left:-77.32px;top:650.48px;font-size:7.14px;line-height:14.29px;transform:scaleX(0.935)">2.91%</div>
<div class="l" dir="rtl" style="left:-7.58px;top:566.64px;font-size:7.41px;line-height:14.82px;transform:scaleX(0.820);font-weight:bold">وپست</div>
<div class="l" dir="ltr" style="left:-7.59px;top:576.00px;font-size:7.80px;line-height:15.60px;transform:scaleX(0.970)">2.89%</div>
<div class="l" dir="rtl" style="left:47.94px;top:569.72px;font-size:6.27px;line-height:12.54px;transform:scaleX(0.820);font-weight:bold">ساتل</div>
<div class="l" dir="ltr" style="left:47.92px;top:575.40px;font-size:6.60px;line-height:13.20px;transform:scaleX(0.970)">2.96%</div>
<div class="l" dir="rtl" style="left:-11.00px;top:643.65px;font-size:5.13px;line-height:10.26px;transform:scaleX(0.820);font-weight:bold">ونوين</div>
<div class="l" dir="ltr" style="left:-11.07px;top:649.10px;font-size:5.40px;line-height:10.80px;transform:scaleX(0.970)">2.96%</div>
<div class="l" dir="rtl" style="left:64.09px;top:623.55px;font-size:12.50px;line-height:25.00px;transform:scaleX(0.620);font-weight:bold">وخاور</div>
<div class="l" dir="rtl" style="left:49.10px;top:655.55px;font-size:12.50px;line-height:25.00px;transform:scaleX(0.620);font-weight:bold">وسينا</div>
<div class="l" dir="rtl" style="left:79.20px;top:655.55px;font-size:12.50px;line-height:25.00px;transform:scaleX(0.620);font-weight:bold">وملل</div>
<div class="l" dir="rtl" style="left:169.78px;top:62.18px;font-size:23.44px;line-height:46.88px;transform:scaleX(0.782)">فملي</div><div class="l" dir="ltr" style="left:169.54px;top:93.43px;font-size:25.71px;line-height:51.43px;transform:scaleX(0.931)">2.97%</div>
<div class="l" dir="rtl" style="left:170.13px;top:193.49px;font-size:23.32px;line-height:46.64px;transform:scaleX(0.948)">فولاد</div><div class="l" dir="ltr" style="left:169.77px;top:224.43px;font-size:25.71px;line-height:51.43px;transform:scaleX(0.921)">2.97%</div>
<div class="l" dir="rtl" style="left:299.59px;top:64.18px;font-size:5.62px;line-height:11.25px;transform:scaleX(0.994);font-weight:bold">ذوب</div><div class="l" dir="ltr" style="left:299.37px;top:73.40px;font-size:6.37px;line-height:12.74px;transform:scaleX(1.069)">2.74%</div>
<div class="l" dir="rtl" style="left:360.02px;top:64.89px;font-size:3.82px;line-height:7.64px;transform:scaleX(1.138);font-weight:bold">فلهر</div><div class="l" dir="ltr" style="left:358.67px;top:66.71px;font-size:7.49px;line-height:14.97px;transform:scaleX(0.625)">2.99%</div>
<div class="l" dir="rtl" style="left:309.59px;top:122.77px;font-size:12.50px;line-height:25.00px;transform:scaleX(0.620);font-weight:bold">فخوز</div>
<div class="l" dir="rtl" style="left:352.91px;top:123.55px;font-size:12.50px;line-height:25.00px;transform:scaleX(0.620);font-weight:bold">كاوه</div>
<div class="l" dir="rtl" style="left:388.60px;top:124.02px;font-size:12.50px;line-height:25.00px;transform:scaleX(0.620);font-weight:bold">فيتا</div>
<div class="l" dir="rtl" style="left:302.20px;top:164.55px;font-size:12.50px;line-height:25.00px;transform:scaleX(0.620);font-weight:bold">فولاي</div>
<div class="l" dir="rtl" style="left:334.18px;top:163.77px;font-size:12.50px;line-height:25.00px;transform:scaleX(0.620);font-weight:bold">فجر</div>
<div class="l" dir="rtl" style="left:363.89px;top:164.55px;font-size:12.50px;line-height:25.00px;transform:scaleX(0.620);font-weight:bold">ارفع</div>
<div class="l" dir="rtl" style="left:301.10px;top:197.11px;font-size:12.50px;line-height:25.00px;transform:scaleX(0.620);font-weight:bold">...فسا</div>
<div class="l" dir="rtl" style="left:372.68px;top:192.89px;font-size:12.50px;line-height:25.00px;transform:scaleX(0.620);font-weight:bold">...و</div>
<div class="l" dir="rtl" style="left:301.59px;top:222.30px;font-size:12.50px;line-height:25.00px;transform:scaleX(0.620);font-weight:bold">...آلو</div>
<div class="l" dir="rtl" style="left:301.20px;top:245.61px;font-size:12.50px;line-height:25.00px;transform:scaleX(0.620);font-weight:bold">...فا</div>
<div class="l" dir="rtl" style="left:127.36px;top:364.79px;font-size:25.22px;line-height:50.44px;transform:scaleX(0.798)">وساپا</div><div class="l" dir="ltr" style="left:127.12px;top:396.75px;font-size:25.71px;line-height:51.43px;transform:scaleX(0.949)">-0.94%</div>
<div class="l" dir="rtl" style="left:220.27px;top:350.36px;font-size:11.60px;line-height:23.20px;transform:scaleX(0.658);font-weight:bold">آريان</div><div class="l" dir="ltr" style="left:221.05px;top:364.57px;font-size:11.43px;line-height:22.86px;transform:scaleX(0.946)">2.97%</div>
<div class="l" dir="rtl" style="left:220.89px;top:444.22px;font-size:7.44px;line-height:14.88px;transform:scaleX(0.621);font-weight:bold">وخارزم</div><div class="l" dir="ltr" style="left:220.57px;top:455.16px;font-size:7.14px;line-height:14.29px;transform:scaleX(0.946)">2.98%</div>
<div class="l" dir="rtl" style="left:295.29px;top:327.80px;font-size:5.70px;line-height:11.40px;transform:scaleX(0.820);font-weight:bold">وبشهر</div>
<div class="l" dir="ltr" style="left:295.00px;top:333.50px;font-size:6.00px;line-height:12.00px;transform:scaleX(0.970)">-1.18%</div>
<div class="l" dir="rtl" style="left:377.10px;top:324.05px;font-size:12.50px;line-height:25.00px;transform:scaleX(0.620);font-weight:bold">وصنا</div>
<div class="l" dir="rtl" style="left:307.70px;top:369.30px;font-size:12.50px;line-height:25.00px;transform:scaleX(0.620);font-weight:bold">وآوا</div>
<div class="l" dir="rtl" style="left:353.68px;top:368.99px;font-size:12.50px;line-height:25.00px;transform:scaleX(0.620);font-weight:bold">وگستر</div>
<div class="l" dir="rtl" style="left:387.59px;top:365.71px;font-size:12.50px;line-height:25.00px;transform:scaleX(0.620);font-weight:bold">...سر</div>
<div class="l" dir="rtl" style="left:297.18px;top:402.71px;font-size:12.50px;line-height:25.00px;transform:scaleX(0.620);font-weight:bold">مهر</div>
<div class="l" dir="rtl" style="left:325.18px;top:401.89px;font-size:12.50px;line-height:25.00px;transform:scaleX(0.620);font-weight:bold">...و</div>
<div class="l" dir="rtl" style="left:296.60px;top:439.11px;font-size:12.50px;line-height:25.00px;transform:scaleX(0.620);font-weight:bold">...سكه</div>
<div class="l" dir="rtl" style="left:296.70px;top:462.71px;font-size:12.50px;line-height:25.00px;transform:scaleX(0.620);font-weight:bold">وسيه</div>
<div class="l" dir="rtl" style="left:374.30px;top:400.52px;font-size:12.50px;line-height:25.00px;transform:scaleX(0.620);font-weight:bold">صبا</div>
<div class="l" dir="rtl" style="left:111.85px;top:536.71px;font-size:7.39px;line-height:14.79px;transform:scaleX(0.685);font-weight:bold">نوري</div><div class="l" dir="ltr" style="left:112.45px;top:545.99px;font-size:7.00px;line-height:14.00px;transform:scaleX(0.830)">2.99%</div>
<div class="l" dir="rtl" style="left:110.44px;top:600.73px;font-size:5.70px;line-height:11.40px;transform:scaleX(0.820);font-weight:bold">فارس</div>
<div class="l" dir="ltr" style="left:110.35px;top:606.00px;font-size:6.00px;line-height:12.00px;transform:scaleX(0.970)">1.62%</div>
<div class="l" dir="rtl" style="left:111.50px;top:651.36px;font-size:5.13px;line-height:10.26px;transform:scaleX(0.820);font-weight:bold">پارس</div>
<div class="l" dir="ltr" style="left:111.43px;top:656.10px;font-size:5.40px;line-height:10.80px;transform:scaleX(0.970)">3.00%</div>
<div class="l" dir="rtl" style="left:169.95px;top:537.00px;font-size:5.13px;line-height:10.26px;transform:scaleX(0.820);font-weight:bold">شلعا</div>
<div class="l" dir="ltr" style="left:169.87px;top:541.60px;font-size:5.40px;line-height:10.80px;transform:scaleX(0.970)">1.8%</div>
<div class="l" dir="rtl" style="left:189.68px;top:593.99px;font-size:12.50px;line-height:25.00px;transform:scaleX(0.620);font-weight:bold">شگستر</div>
<div class="l" dir="rtl" style="left:189.20px;top:645.11px;font-size:12.50px;line-height:25.00px;transform:scaleX(0.620);font-weight:bold">شپديس</div>
<div class="l" dir="rtl" style="left:236.70px;top:522.99px;font-size:12.50px;line-height:25.00px;transform:scaleX(0.620);font-weight:bold">زاگرس</div>
<div class="l" dir="rtl" style="left:236.80px;top:564.86px;font-size:12.50px;line-height:25.00px;transform:scaleX(0.620);font-weight:bold">جم</div>
<div class="l" dir="rtl" style="left:236.70px;top:608.77px;font-size:12.50px;line-height:25.00px;transform:scaleX(0.620);font-weight:bold">شفن</div>
<div class="l" dir="rtl" style="left:236.60px;top:650.55px;font-size:12.50px;line-height:25.00px;transform:scaleX(0.620);font-weight:bold">شخارك</div>
<div class="l" dir="rtl" style="left:278.68px;top:520.49px;font-size:12.50px;line-height:25.00px;transform:scaleX(0.620);font-weight:bold">ويترو</div>
<div class="l" dir="rtl" style="left:315.20px;top:522.05px;font-size:12.50px;line-height:25.00px;transform:scaleX(0.620);font-weight:bold">شكرين</div>
<div class="l" dir="rtl" style="left:352.09px;top:522.05px;font-size:12.50px;line-height:25.00px;transform:scaleX(0.620);font-weight:bold">تاپيكو</div>
<div class="l" dir="rtl" style="left:386.60px;top:522.05px;font-size:12.50px;line-height:25.00px;transform:scaleX(0.620);font-weight:bold">...شپا</div>
<div class="l" dir="rtl" style="left:277.59px;top:567.05px;font-size:12.50px;line-height:25.00px;transform:scaleX(0.620);font-weight:bold">شيراز</div>
<div class="l" dir="rtl" style="left:277.10px;top:610.05px;font-size:12.50px;line-height:25.00px;transform:scaleX(0.620);font-weight:bold">بوعلي</div>
<div class="l" dir="rtl" style="left:277.20px;top:651.05px;font-size:12.50px;line-height:25.00px;transform:scaleX(0.620);font-weight:bold">شفام</div>
<div class="l" dir="rtl" style="left:314.20px;top:559.05px;font-size:12.50px;line-height:25.00px;transform:scaleX(0.620);font-weight:bold">پترول</div>
<div class="l" dir="rtl" style="left:352.20px;top:558.27px;font-size:12.50px;line-height:25.00px;transform:scaleX(0.620);font-weight:bold">قرن</div>
<div class="l" dir="rtl" style="left:387.59px;top:559.05px;font-size:12.50px;line-height:25.00px;transform:scaleX(0.620);font-weight:bold">پاكشو</div>
<div class="l" dir="rtl" style="left:307.89px;top:623.55px;font-size:12.50px;line-height:25.00px;transform:scaleX(0.620);font-weight:bold">كلر</div>
<div class="l" dir="rtl" style="left:307.60px;top:656.46px;font-size:12.50px;line-height:25.00px;transform:scaleX(0.620);font-weight:bold">...ما</div>
<div class="l" dir="rtl" style="left:335.20px;top:584.11px;font-size:12.50px;line-height:25.00px;transform:scaleX(0.620);font-weight:bold">...ش</div>
<div class="l" dir="rtl" style="left:364.18px;top:585.05px;font-size:12.50px;line-height:25.00px;transform:scaleX(0.620);font-weight:bold">...پار</div>
<div class="l" dir="rtl" style="left:390.60px;top:584.11px;font-size:12.50px;line-height:25.00px;transform:scaleX(0.620);font-weight:bold">شجم</div>
<div class="l" dir="rtl" style="left:356.99px;top:613.86px;font-size:12.50px;line-height:25.00px;transform:scaleX(0.620);font-weight:bold">...آ</div>
<div class="l" dir="rtl" style="left:505.00px;top:87.20px;font-size:24.34px;line-height:48.68px;transform:scaleX(0.874)">اخابر</div><div class="l" dir="ltr" style="left:504.00px;top:117.57px;font-size:27.00px;line-height:54.00px;transform:scaleX(0.915)">-2.89%</div>
<div class="l" dir="rtl" style="left:698.06px;top:55.80px;font-size:18.34px;line-height:36.68px;transform:scaleX(0.888)">شپنا</div><div class="l" dir="ltr" style="left:697.22px;top:81.05px;font-size:18.91px;line-height:37.83px;transform:scaleX(0.953)">2.99%</div>
<div class="l" dir="rtl" style="left:698.80px;top:150.48px;font-size:15.20px;line-height:30.40px;transform:scaleX(0.668);font-weight:bold">شبندر</div><div class="l" dir="ltr" style="left:697.91px;top:171.01px;font-size:15.06px;line-height:30.11px;transform:scaleX(0.976)">1.76%</div>
<div class="l" dir="rtl" style="left:815.73px;top:50.20px;font-size:7.66px;line-height:15.32px;transform:scaleX(0.612);font-weight:bold">شتران</div><div class="l" dir="ltr" style="left:815.98px;top:61.79px;font-size:6.17px;line-height:12.34px;transform:scaleX(1.102)">2.65%</div>
<div class="l" dir="rtl" style="left:793.00px;top:112.86px;font-size:3.99px;line-height:7.98px;transform:scaleX(0.820);font-weight:bold">شنفت</div>
<div class="l" dir="ltr" style="left:793.00px;top:116.30px;font-size:4.20px;line-height:8.40px;transform:scaleX(0.970)">-1.69%</div>
<div class="l" dir="rtl" style="left:841.66px;top:112.61px;font-size:3.99px;line-height:7.98px;transform:scaleX(0.820);font-weight:bold">شراز</div>
<div class="l" dir="ltr" style="left:841.40px;top:116.80px;font-size:4.20px;line-height:8.40px;transform:scaleX(0.970)">1.26%</div>
<div class="l" dir="rtl" style="left:802.10px;top:169.05px;font-size:12.50px;line-height:25.00px;transform:scaleX(0.620);font-weight:bold">شسپا</div>
<div class="l" dir="rtl" style="left:850.80px;top:153.11px;font-size:12.50px;line-height:25.00px;transform:scaleX(0.620);font-weight:bold">شبهرن</div>
<div class="l" dir="rtl" style="left:834.10px;top:184.77px;font-size:12.50px;line-height:25.00px;transform:scaleX(0.620);font-weight:bold">ونفت</div>
<div class="l" dir="rtl" style="left:899.94px;top:53.23px;font-size:5.70px;line-height:11.40px;transform:scaleX(0.820);font-weight:bold">سفارس</div>
<div class="l" dir="ltr" style="left:900.00px;top:60.50px;font-size:6.00px;line-height:12.00px;transform:scaleX(0.970)">3%</div>
<div class="l" dir="rtl" style="left:965.70px;top:55.11px;font-size:3.99px;line-height:7.98px;transform:scaleX(0.820);font-weight:bold">سمتاز</div>
<div class="l" dir="ltr" style="left:965.50px;top:59.80px;font-size:4.20px;line-height:8.40px;transform:scaleX(0.970)">3%</div>
<div class="l" dir="rtl" style="left:1032.18px;top:46.86px;font-size:12.50px;line-height:25.00px;transform:scaleX(0.620);font-weight:bold">سدور</div>
<div class="l" dir="rtl" style="left:909.10px;top:104.49px;font-size:12.50px;line-height:25.00px;transform:scaleX(0.620);font-weight:bold">سهگمت</div>
<div class="l" dir="rtl" style="left:909.59px;top:147.55px;font-size:12.50px;line-height:25.00px;transform:scaleX(0.620);font-weight:bold">سباقر</div>
<div class="l" dir="rtl" style="left:909.10px;top:184.05px;font-size:12.50px;line-height:25.00px;transform:scaleX(0.620);font-weight:bold">سپاها</div>
<div class="l" dir="rtl" style="left:955.80px;top:97.55px;font-size:12.50px;line-height:25.00px;transform:scaleX(0.620);font-weight:bold">ستران</div>
<div class="l" dir="rtl" style="left:997.60px;top:97.55px;font-size:12.50px;line-height:25.00px;transform:scaleX(0.620);font-weight:bold">ساروم</div>
<div class="l" dir="rtl" style="left:1034.20px;top:98.02px;font-size:12.50px;line-height:25.00px;transform:scaleX(0.620);font-weight:bold">سيتا</div>
<div class="l" dir="rtl" style="left:950.60px;top:130.61px;font-size:12.50px;line-height:25.00px;transform:scaleX(0.620);font-weight:bold">...سش</div>
<div class="l" dir="rtl" style="left:950.70px;top:161.05px;font-size:12.50px;line-height:25.00px;transform:scaleX(0.620);font-weight:bold">...ارد</div>
<div class="l" dir="rtl" style="left:950.70px;top:189.27px;font-size:12.50px;line-height:25.00px;transform:scaleX(0.620);font-weight:bold">سآبيك</div>
<div class="l" dir="rtl" style="left:982.20px;top:126.71px;font-size:12.50px;line-height:25.00px;transform:scaleX(0.620);font-weight:bold">...س</div>
<div class="l" dir="rtl" style="left:1010.10px;top:130.61px;font-size:12.50px;line-height:25.00px;transform:scaleX(0.620);font-weight:bold">...سا</div>
<div class="l" dir="rtl" style="left:1037.20px;top:126.71px;font-size:12.50px;line-height:25.00px;transform:scaleX(0.620);font-weight:bold">...س</div>
<div class="l" dir="rtl" style="left:434.57px;top:261.38px;font-size:10.83px;line-height:21.65px;transform:scaleX(0.666);font-weight:bold">شستا</div><div class="l" dir="ltr" style="left:434.48px;top:276.58px;font-size:11.11px;line-height:22.23px;transform:scaleX(0.912)">2.39%</div>
<div class="l" dir="rtl" style="left:435.32px;top:339.82px;font-size:9.78px;line-height:19.56px;transform:scaleX(0.662);font-weight:bold">وغدير</div><div class="l" dir="ltr" style="left:435.29px;top:351.64px;font-size:10.49px;line-height:20.97px;transform:scaleX(0.812)">2.95%</div>
<div class="l" dir="rtl" style="left:520.15px;top:255.50px;font-size:5.07px;line-height:10.15px;transform:scaleX(0.801);font-weight:bold">وصندوق</div><div class="l" dir="ltr" style="left:521.16px;top:260.98px;font-size:4.80px;line-height:9.60px;transform:scaleX(1.064)">2.73%</div>
<div class="l" dir="rtl" style="left:521.32px;top:309.70px;font-size:3.64px;line-height:7.28px;transform:scaleX(1.104);font-weight:bold">وپاك</div><div class="l" dir="ltr" style="left:522.79px;top:312.79px;font-size:4.94px;line-height:9.89px;transform:scaleX(1.264)">2.94%</div>
<div class="l" dir="rtl" style="left:514.50px;top:355.86px;font-size:5.13px;line-height:10.26px;transform:scaleX(0.820);font-weight:bold">رايه</div>
<div class="l" dir="ltr" style="left:514.43px;top:361.10px;font-size:5.40px;line-height:10.80px;transform:scaleX(0.970)">0.05%</div>
<div class="l" dir="rtl" style="left:630.11px;top:248.43px;font-size:14.61px;line-height:29.21px;transform:scaleX(0.609);font-weight:bold">فزر</div><div class="l" dir="ltr" style="left:629.52px;top:268.85px;font-size:11.71px;line-height:23.43px;transform:scaleX(1.046)">2.1%</div>
<div class="l" dir="rtl" style="left:584.95px;top:337.36px;font-size:5.13px;line-height:10.26px;transform:scaleX(0.820);font-weight:bold">فاسمين</div>
<div class="l" dir="ltr" style="left:584.93px;top:343.60px;font-size:5.40px;line-height:10.80px;transform:scaleX(0.970)">2.99%</div>
<div class="l" dir="rtl" style="left:646.01px;top:313.05px;font-size:12.50px;line-height:25.00px;transform:scaleX(0.620);font-weight:bold">كچاد</div>
<div class="l" dir="rtl" style="left:645.91px;top:356.61px;font-size:12.50px;line-height:25.00px;transform:scaleX(0.620);font-weight:bold">كگل</div>
<div class="l" dir="rtl" style="left:679.10px;top:311.05px;font-size:12.50px;line-height:25.00px;transform:scaleX(0.620);font-weight:bold">...كم</div>
<div class="l" dir="rtl" style="left:706.18px;top:308.39px;font-size:12.50px;line-height:25.00px;transform:scaleX(0.620);font-weight:bold">...و</div>
<div class="l" dir="rtl" style="left:682.68px;top:344.05px;font-size:12.50px;line-height:25.00px;transform:scaleX(0.620);font-weight:bold">...كرو</div>
<div class="l" dir="rtl" style="left:734.95px;top:255.48px;font-size:4.56px;line-height:9.12px;transform:scaleX(0.820);font-weight:bold">زكشت</div>
<div class="l" dir="ltr" style="left:734.88px;top:260.20px;font-size:4.80px;line-height:9.60px;transform:scaleX(0.970)">1.69%</div>
<div class="l" dir="rtl" style="left:789.50px;top:255.20px;font-size:4.56px;line-height:9.12px;transform:scaleX(0.820);font-weight:bold">زشريف</div>
<div class="l" dir="ltr" style="left:789.50px;top:260.20px;font-size:4.80px;line-height:9.60px;transform:scaleX(0.970)">0%</div>
<div class="l" dir="rtl" style="left:746.09px;top:301.55px;font-size:12.50px;line-height:25.00px;transform:scaleX(0.620);font-weight:bold">زكوثر</div>
<div class="l" dir="rtl" style="left:745.80px;top:340.05px;font-size:12.50px;line-height:25.00px;transform:scaleX(0.620);font-weight:bold">زماهان</div>
<div class="l" dir="rtl" style="left:789.10px;top:292.21px;font-size:12.50px;line-height:25.00px;transform:scaleX(0.620);font-weight:bold">...سيم</div>
<div class="l" dir="rtl" style="left:820.10px;top:294.55px;font-size:12.50px;line-height:25.00px;transform:scaleX(0.620);font-weight:bold">زفكا</div>
<div class="l" dir="rtl" style="left:786.18px;top:321.68px;font-size:12.50px;line-height:25.00px;transform:scaleX(0.620);font-weight:bold">...ز</div>
<div class="l" dir="rtl" style="left:846.45px;top:261.98px;font-size:4.56px;line-height:9.12px;transform:scaleX(0.820);font-weight:bold">ثنام</div>
<div class="l" dir="ltr" style="left:846.50px;top:267.20px;font-size:4.80px;line-height:9.60px;transform:scaleX(0.970)">-2.98%</div>
<div class="l" dir="rtl" style="left:903.91px;top:261.98px;font-size:4.56px;line-height:9.12px;transform:scaleX(0.820);font-weight:bold">كرمان</div>
<div class="l" dir="ltr" style="left:904.00px;top:267.20px;font-size:4.80px;line-height:9.60px;transform:scaleX(0.970)">-2.95%</div>
<div class="l" dir="rtl" style="left:853.80px;top:311.52px;font-size:12.50px;line-height:25.00px;transform:scaleX(0.620);font-weight:bold">تاميد</div>
<div class="l" dir="rtl" style="left:854.09px;top:343.80px;font-size:12.50px;line-height:25.00px;transform:scaleX(0.620);font-weight:bold">وآذر</div>
<div class="l" dir="rtl" style="left:883.60px;top:339.49px;font-size:12.50px;line-height:25.00px;transform:scaleX(0.620);font-weight:bold">...تم</div>
<div class="l" dir="rtl" style="left:977.94px;top:272.62px;font-size:17.38px;line-height:34.76px;transform:scaleX(0.770)">محتشم</div><div class="l" dir="ltr" style="left:977.61px;top:294.40px;font-size:18.83px;line-height:37.66px;transform:scaleX(0.883)">0.89%</div>
<div class="c" style="left:607px;top:410px;width:106px;height:131px"><div style="position:absolute;left:-607px;top:-410px"><div class="l" dir="rtl" style="left:430.38px;top:447.38px;font-size:19.56px;line-height:39.12px;transform:scaleX(0.825)">حكشتي</div><div class="l" dir="ltr" style="left:429.55px;top:474.98px;font-size:19.20px;line-height:38.40px;transform:scaleX(1.051)">1.07%</div></div></div>
<div class="l" dir="rtl" style="left:529.20px;top:426.61px;font-size:12.50px;line-height:25.00px;transform:scaleX(0.620);font-weight:bold">...حفا</div>
<div class="l" dir="rtl" style="left:561.70px;top:425.52px;font-size:12.50px;line-height:25.00px;transform:scaleX(0.620);font-weight:bold">حسينا</div>
<div class="l" dir="rtl" style="left:533.89px;top:472.52px;font-size:12.50px;line-height:25.00px;transform:scaleX(0.620);font-weight:bold">حتايد</div>
<div class="l" dir="rtl" style="left:566.20px;top:470.02px;font-size:12.50px;line-height:25.00px;transform:scaleX(0.620);font-weight:bold">...ح</div>
<div class="l" dir="rtl" style="left:417.00px;top:599.10px;font-size:6.27px;line-height:12.54px;transform:scaleX(0.820);font-weight:bold">غلن</div>
<div class="l" dir="ltr" style="left:416.92px;top:608.40px;font-size:6.60px;line-height:13.20px;transform:scaleX(0.970)">2.98%</div>
<div class="l" dir="rtl" style="left:435.78px;top:654.05px;font-size:12.50px;line-height:25.00px;transform:scaleX(0.620);font-weight:bold">غالبر</div>
<div class="l" dir="rtl" style="left:485.70px;top:565.42px;font-size:12.50px;line-height:25.00px;transform:scaleX(0.620);font-weight:bold">غنوش</div>
<div class="l" dir="rtl" style="left:526.30px;top:567.61px;font-size:12.50px;line-height:25.00px;transform:scaleX(0.620);font-weight:bold">غگل</div>
<div class="l" dir="rtl" style="left:561.80px;top:565.42px;font-size:12.50px;line-height:25.00px;transform:scaleX(0.620);font-weight:bold">غديس</div>
<div class="l" dir="rtl" style="left:479.18px;top:593.89px;font-size:12.50px;line-height:25.00px;transform:scaleX(0.620);font-weight:bold">...و</div>
<div class="l" dir="rtl" style="left:599.55px;top:431.65px;font-size:10.72px;line-height:21.44px;transform:scaleX(0.442);font-weight:bold">مبين</div><div class="l" dir="ltr" style="left:598.91px;top:446.88px;font-size:8.09px;line-height:16.17px;transform:scaleX(1.079)">1.93%</div>
<div class="l" dir="rtl" style="left:669.65px;top:436.48px;font-size:6.65px;line-height:13.30px;transform:scaleX(0.666);font-weight:bold">بفجر</div><div class="l" dir="ltr" style="left:668.88px;top:445.98px;font-size:6.03px;line-height:12.06px;transform:scaleX(0.939)">2.96%</div>
<div class="l" dir="rtl" style="left:599.70px;top:500.36px;font-size:12.50px;line-height:25.00px;transform:scaleX(0.620);font-weight:bold">بجهرم</div>
<div class="l" dir="rtl" style="left:643.10px;top:488.55px;font-size:12.50px;line-height:25.00px;transform:scaleX(0.620);font-weight:bold">ومپنا</div>
<div class="l" dir="rtl" style="left:643.30px;top:521.55px;font-size:12.50px;line-height:25.00px;transform:scaleX(0.620);font-weight:bold">دماوند</div>
<div class="l" dir="rtl" style="left:692.10px;top:481.11px;font-size:12.50px;line-height:25.00px;transform:scaleX(0.620);font-weight:bold">شمس</div>
<div class="l" dir="rtl" style="left:600.09px;top:580.55px;font-size:12.50px;line-height:25.00px;transform:scaleX(0.620);font-weight:bold">نكوثر</div>
<div class="l" dir="rtl" style="left:599.31px;top:622.55px;font-size:12.50px;line-height:25.00px;transform:scaleX(0.620);font-weight:bold">كاسپين</div>
<div class="l" dir="rtl" style="left:599.70px;top:656.99px;font-size:12.50px;line-height:25.00px;transform:scaleX(0.620);font-weight:bold">...دزاگ</div>
<div class="l" dir="rtl" style="left:637.60px;top:573.55px;font-size:12.50px;line-height:25.00px;transform:scaleX(0.620);font-weight:bold">بركت</div>
<div class="l" dir="rtl" style="left:673.30px;top:573.55px;font-size:12.50px;line-height:25.00px;transform:scaleX(0.620);font-weight:bold">داوه</div>
<div class="l" dir="rtl" style="left:704.59px;top:573.55px;font-size:12.50px;line-height:25.00px;transform:scaleX(0.620);font-weight:bold">دالبر</div>
<div class="l" dir="rtl" style="left:634.10px;top:602.61px;font-size:12.50px;line-height:25.00px;transform:scaleX(0.620);font-weight:bold">پخش</div>
<div class="l" dir="rtl" style="left:634.10px;top:631.52px;font-size:12.50px;line-height:25.00px;transform:scaleX(0.620);font-weight:bold">دسينا</div>
<div class="l" dir="rtl" style="left:634.20px;top:656.61px;font-size:12.50px;line-height:25.00px;transform:scaleX(0.620);font-weight:bold">دعبيد</div>
<div class="l" dir="rtl" style="left:735.78px;top:412.42px;font-size:4.00px;line-height:8.00px;transform:scaleX(0.863);font-weight:bold">فرابورس</div><div class="l" dir="ltr" style="left:734.62px;top:417.09px;font-size:5.71px;line-height:11.43px;transform:scaleX(1.014)">-1.22%</div>
<div class="l" dir="rtl" style="left:736.25px;top:457.52px;font-size:6.20px;line-height:12.40px;transform:scaleX(0.439);font-weight:bold">ثبت</div><div class="l" dir="ltr" style="left:736.96px;top:464.19px;font-size:4.91px;line-height:9.83px;transform:scaleX(1.011)">1.6%</div>
<div class="l" dir="rtl" style="left:806.30px;top:397.05px;font-size:12.50px;line-height:25.00px;transform:scaleX(0.620);font-weight:bold">انرژي</div>
<div class="l" dir="rtl" style="left:734.23px;top:526.98px;font-size:4.56px;line-height:9.12px;transform:scaleX(0.820);font-weight:bold">البرز</div>
<div class="l" dir="ltr" style="left:733.88px;top:531.20px;font-size:4.80px;line-height:9.60px;transform:scaleX(0.970)">1.9%</div>
<div class="l" dir="rtl" style="left:751.10px;top:561.17px;font-size:12.50px;line-height:25.00px;transform:scaleX(0.620);font-weight:bold">ودي</div>
<div class="l" dir="rtl" style="left:727.21px;top:642.36px;font-size:5.13px;line-height:10.26px;transform:scaleX(0.820);font-weight:bold">سپيدار</div>
<div class="l" dir="ltr" style="left:726.93px;top:647.60px;font-size:5.40px;line-height:10.80px;transform:scaleX(0.970)">2.93%</div>
<div class="l" dir="rtl" style="left:844.20px;top:399.52px;font-size:12.50px;line-height:25.00px;transform:scaleX(0.620);font-weight:bold">قابت</div>
<div class="l" dir="rtl" style="left:844.20px;top:437.02px;font-size:12.50px;line-height:25.00px;transform:scaleX(0.620);font-weight:bold">قيشا</div>
<div class="l" dir="rtl" style="left:873.70px;top:391.58px;font-size:12.50px;line-height:25.00px;transform:scaleX(0.620);font-weight:bold">...ق</div>
<div class="l" dir="rtl" style="left:930.60px;top:396.05px;font-size:12.50px;line-height:25.00px;transform:scaleX(0.620);font-weight:bold">لسرما</div>
<div class="l" dir="rtl" style="left:967.10px;top:397.61px;font-size:12.50px;line-height:25.00px;transform:scaleX(0.620);font-weight:bold">...ا</div>
<div class="l" dir="rtl" style="left:915.70px;top:434.18px;font-size:12.50px;line-height:25.00px;transform:scaleX(0.620);font-weight:bold">...ل</div>
<div class="l" dir="rtl" style="left:937.10px;top:435.11px;font-size:12.50px;line-height:25.00px;transform:scaleX(0.620);font-weight:bold">...ا</div>
<div class="l" dir="rtl" style="left:1000.00px;top:401.48px;font-size:4.56px;line-height:9.12px;transform:scaleX(0.820);font-weight:bold">فرابين</div>
<div class="l" dir="ltr" style="left:999.88px;top:406.70px;font-size:4.80px;line-height:9.60px;transform:scaleX(0.970)">1.59%</div>
<div class="l" dir="rtl" style="left:1000.18px;top:434.05px;font-size:12.50px;line-height:25.00px;transform:scaleX(0.620);font-weight:bold">بالبر</div>
<div class="l" dir="rtl" style="left:840.82px;top:504.29px;font-size:6.18px;line-height:12.36px;transform:scaleX(0.719);font-weight:bold">حفاري</div><div class="l" dir="ltr" style="left:840.84px;top:512.52px;font-size:6.74px;line-height:13.49px;transform:scaleX(0.774)">2.94%</div>
<div class="l" dir="rtl" style="left:842.60px;top:575.05px;font-size:12.50px;line-height:25.00px;transform:scaleX(0.620);font-weight:bold">فاراك</div>
<div class="l" dir="rtl" style="left:876.09px;top:564.05px;font-size:12.50px;line-height:25.00px;transform:scaleX(0.620);font-weight:bold">فاذر</div>
<div class="l" dir="rtl" style="left:839.60px;top:636.61px;font-size:12.50px;line-height:25.00px;transform:scaleX(0.620);font-weight:bold">...كا</div>
<div class="l" dir="rtl" style="left:839.70px;top:660.46px;font-size:12.50px;line-height:25.00px;transform:scaleX(0.620);font-weight:bold">...ك</div>
<div class="l" dir="rtl" style="left:910.80px;top:500.02px;font-size:12.50px;line-height:25.00px;transform:scaleX(0.620);font-weight:bold">نيان</div>
<div class="l" dir="rtl" style="left:937.70px;top:497.21px;font-size:12.50px;line-height:25.00px;transform:scaleX(0.620);font-weight:bold">...م</div>
<div class="l" dir="rtl" style="left:955.84px;top:500.61px;font-size:3.99px;line-height:7.98px;transform:scaleX(0.820);font-weight:bold">كهتل</div>
<div class="l" dir="ltr" style="left:955.95px;top:504.30px;font-size:4.20px;line-height:8.40px;transform:scaleX(0.970)">3.00%</div>
<div class="l" dir="rtl" style="left:1016.51px;top:489.55px;font-size:12.50px;line-height:25.00px;transform:scaleX(0.620);font-weight:bold">كلوند</div>
<div class="l" dir="rtl" style="left:1027.10px;top:563.55px;font-size:12.50px;line-height:25.00px;transform:scaleX(0.620);font-weight:bold">مهرمام</div>
<div class="l" dir="rtl" style="left:917.31px;top:614.55px;font-size:12.50px;line-height:25.00px;transform:scaleX(0.620);font-weight:bold">كربن</div>
<div class="l" dir="rtl" style="left:974.91px;top:616.05px;font-size:12.50px;line-height:25.00px;transform:scaleX(0.620);font-weight:bold">كتوسعه</div>
<div class="h" dir="rtl" style="left:-141.70px;top:10px;font-size:11px;transform:scaleX(0.903)"><span dir="rtl">خودرو و ساخت قطعات <b>[+]</b></span></div>
<div class="h" dir="rtl" style="left:-141.31px;top:357px;font-size:11px;transform:scaleX(0.919)"><span dir="rtl">بانکها و موسسات اعتباري <b>[+]</b></span></div>
<div class="h" dir="rtl" style="left:148.31px;top:10px;font-size:11px;transform:scaleX(0.886)"><span dir="rtl">فلزات اساسي <b>[+]</b></span></div>
<div class="h" dir="rtl" style="left:148.79px;top:292px;font-size:11px;transform:scaleX(0.927)"><span dir="rtl">سرمايه گذاريها <b>[+]</b></span></div>
<div class="h" dir="rtl" style="left:148.69px;top:490px;font-size:11px;transform:scaleX(0.922)"><span dir="rtl">محصولات شيميايي <b>[+]</b></span></div>
<div class="h" dir="rtl" style="left:425.52px;top:10px;font-size:11px;transform:scaleX(0.953)"><span dir="rtl">مخابرات <b>[+]</b></span></div>
<div class="h" dir="rtl" style="left:665.06px;top:10px;font-size:11px;transform:scaleX(0.874)"><span dir="rtl">فراورده هاي نفتي، كك و سوخت هسته اي <b>[+]</b></span></div>
<div class="h" dir="rtl" style="left:866.88px;top:10px;font-size:11px;transform:scaleX(0.910)"><span dir="rtl">سيمان، آهك و گچ <b>[+]</b></span></div>
<div class="h" dir="rtl" style="left:390.54px;top:214px;font-size:11px;transform:scaleX(0.925)"><span dir="rtl">شركتهاي چند رشته اي صنعتي <b>[+]</b></span></div>
<div class="h" dir="rtl" style="left:547.40px;top:214px;font-size:11px;transform:scaleX(0.898)"><span dir="rtl">استخراج كانه هاي فلزي <b>[+]</b></span></div>
<div class="h" dir="rtl" style="left:676.18px;top:214px;font-size:11px;transform:scaleX(0.937)"><span dir="rtl">...زراعت و خدمات وا <b>[+]</b></span></div>
<div class="h" dir="rtl" style="left:792.00px;top:214px;font-size:11px;transform:scaleX(0.912)"><span dir="rtl">...انبوه سازي، املاك و <b>[+]</b></span></div>
<div class="h" dir="rtl" style="left:900.60px;top:214px;font-size:11px;transform:scaleX(0.900)"><span dir="rtl">منسوجات <b>[+]</b></span></div>
<div class="h" dir="rtl" style="left:390.79px;top:389px;font-size:11px;transform:scaleX(0.920)"><span dir="rtl">حمل ونقل، انبارداري و ارتباطات <b>[+]</b></span></div>
<div class="h" dir="rtl" style="left:390.90px;top:543px;font-size:11px;transform:scaleX(0.902)"><span dir="rtl">...محصولات غذايي و آشاميدني به جز <b>[+]</b></span></div>
<div class="h" dir="rtl" style="left:548.20px;top:389px;font-size:11px;transform:scaleX(0.962)"><span dir="rtl">...عرضه برق، گاز، بخاروآب <b>[+]</b></span></div>
<div class="h" dir="rtl" style="left:548.80px;top:549px;font-size:11px;transform:scaleX(0.937)"><span dir="rtl">مواد و محصولات دارويي <b>[+]</b></span></div>
<div class="h" dir="rtl" style="left:671.55px;top:368px;font-size:11px;transform:scaleX(0.903)"><span dir="rtl">... فعاليتهاي كمكي به <b>[+]</b></span></div>
<div class="h" dir="rtl" style="left:672.80px;top:488px;font-size:11px;transform:scaleX(0.938)"><span dir="rtl">...بيمه وصندوق بازن <b>[+]</b></span></div>
<div class="h" dir="rtl" style="left:672.00px;top:596px;font-size:11px;transform:scaleX(1.023)"><span dir="rtl">...رايانه و فعاليتها <b>[+]</b></span></div>
<div class="h" dir="rtl" style="left:763.89px;top:368px;font-size:11px;transform:scaleX(0.920)"><span dir="rtl">قند و شكر <b>[+]</b></span></div>
<div class="h" dir="rtl" style="left:840.38px;top:368px;font-size:11px;transform:scaleX(0.943)"><span dir="rtl">...ماشين آلا <b>[+]</b></span></div>
<div class="h" dir="rtl" style="left:914.33px;top:368px;font-size:11px;transform:scaleX(0.932)"><span dir="rtl">...ماشين آلا <b>[+]</b></span></div>
<div class="h" dir="rtl" style="left:758.77px;top:465px;font-size:11px;transform:scaleX(0.958)"><span dir="rtl">...استخرا <b>[+]</b></span></div>
<div class="h" dir="rtl" style="left:759.60px;top:541px;font-size:11px;transform:scaleX(0.906)"><span dir="rtl">...ساخت م <b>[+]</b></span></div>
<div class="h" dir="rtl" style="left:759.12px;top:614px;font-size:11px;transform:scaleX(0.951)"><span dir="rtl">...ساير مح <b>[+]</b></span></div>
<div class="h" dir="rtl" style="left:820.80px;top:465px;font-size:11px;transform:scaleX(0.938)"><span dir="rtl">... توليد <b>[+]</b></span></div>
<div class="h" dir="rtl" style="left:874.45px;top:465px;font-size:11px;transform:scaleX(0.948)"><span dir="rtl">... هتل <b>[+]</b></span></div>
<div class="h" dir="rtl" style="left:926.40px;top:465px;font-size:11px;transform:scaleX(1.000)"><span dir="rtl">...كا <b>[+]</b></span></div>
<div class="h" dir="rtl" style="left:825.00px;top:539px;font-size:11px;transform:scaleX(0.985)"><span dir="rtl">...لاستيك <b>[+]</b></span></div>
<div class="h" dir="rtl" style="left:878.86px;top:539px;font-size:11px;transform:scaleX(0.887)"><span dir="rtl">....سا <b>[+]</b></span></div>
<div class="h" dir="rtl" style="left:927.10px;top:539px;font-size:11px;transform:scaleX(0.868)"><span dir="rtl">....سل <b>[+]</b></span></div>
<div class="h" dir="rtl" style="left:823.65px;top:593px;font-size:11px;transform:scaleX(0.963)"><span dir="rtl">...استخر <b>[+]</b></span></div>
<div class="h" dir="rtl" style="left:877.36px;top:593px;font-size:11px;transform:scaleX(0.874)"><span dir="rtl">....اس <b>[+]</b></span></div>
<div class="h" dir="rtl" style="left:925.90px;top:593px;font-size:11px;transform:scaleX(0.895)"><span dir="rtl">....مج <b>[+]</b></span></div>
<div class="h" dir="rtl" style="left:823.17px;top:641px;font-size:11px;transform:scaleX(0.957)"><span dir="rtl">...اطلاعا <b>[+]</b></span></div>
<div class="h" dir="rtl" style="left:877.22px;top:644px;font-size:11px;transform:scaleX(0.856)"><span dir="rtl">....حم <b>[+]</b></span></div>
<div class="h" dir="ltr" style="left:914.70px;top:624px;font-size:11px;transform:scaleX(1.138)">[+...</div>
<div class="h" dir="ltr" style="left:939.90px;top:624px;font-size:11px;transform:scaleX(1.080)">[...</div>
<div class="h" dir="ltr" style="left:913.75px;top:649px;font-size:11px;transform:scaleX(1.150)">[...</div>
</body></html>
